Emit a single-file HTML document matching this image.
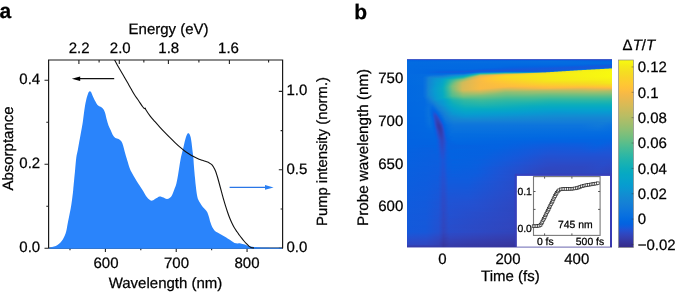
<!DOCTYPE html>
<html><head><meta charset="utf-8"><style>
html,body{margin:0;padding:0;background:#fff;}
body{width:675px;height:292px;overflow:hidden;position:relative;}
svg{position:absolute;left:0;top:0;will-change:transform;}
text{font-family:"Liberation Sans",sans-serif;fill:#000;text-rendering:geometricPrecision;stroke:#000;stroke-width:0.25px;}
</style></head><body>
<svg width="675" height="292" viewBox="0 0 675 292">
<path d="M48.6,248.2V60H282.6V248.2" fill="none" stroke="#1a1a1a" stroke-width="1.2"/>
<path d="M48.6,248.2H282.6" stroke="#1a1a1a" stroke-width="1.2"/>
<path d="M44.5,248.25H48.6 M46.3,206.25H48.6 M44.5,164.25H48.6 M46.3,122.25H48.6 M44.5,80.25H48.6 M278.8,248.20H282.6 M280.6,209.00H282.6 M278.8,169.80H282.6 M280.6,130.60H282.6 M278.8,91.40H282.6 M69.99,248.2V250.2 M105.40,248.2V251.9 M140.81,248.2V250.2 M176.23,248.2V251.9 M211.65,248.2V250.2 M247.06,248.2V251.9 M78.90,60V64.0 M99.10,60V62.6 M119.30,60V64.0 M143.85,60V62.6 M168.40,60V64.0 M198.90,60V62.6 M229.40,60V64.0 M268.60,60V62.6" stroke="#222" stroke-width="1.1" fill="none"/>
<path d="M49.20,248.00 C49.42,247.93 49.70,247.83 50.50,247.60 C51.30,247.37 52.83,247.03 54.00,246.60 C55.17,246.17 56.42,245.68 57.50,245.00 C58.58,244.32 59.62,243.42 60.50,242.50 C61.38,241.58 62.08,240.67 62.80,239.50 C63.52,238.33 64.22,236.92 64.80,235.50 C65.38,234.08 65.83,232.92 66.30,231.00 C66.77,229.08 67.15,226.33 67.60,224.00 C68.05,221.67 68.50,219.50 69.00,217.00 C69.50,214.50 70.10,211.83 70.60,209.00 C71.10,206.17 71.57,203.17 72.00,200.00 C72.43,196.83 72.70,194.83 73.20,190.00 C73.70,185.17 74.48,176.42 75.00,171.00 C75.52,165.58 75.83,161.00 76.30,157.50 C76.77,154.00 77.32,152.58 77.80,150.00 C78.28,147.42 78.75,144.50 79.20,142.00 C79.65,139.50 80.08,137.25 80.50,135.00 C80.92,132.75 81.37,130.33 81.70,128.50 C82.03,126.67 82.27,125.45 82.50,124.00 C82.73,122.55 82.88,121.42 83.10,119.80 C83.32,118.18 83.50,116.50 83.80,114.30 C84.10,112.10 84.47,109.15 84.90,106.60 C85.33,104.05 85.95,100.93 86.40,99.00 C86.85,97.07 87.23,96.12 87.60,95.00 C87.97,93.88 88.22,92.92 88.60,92.30 C88.98,91.68 89.47,91.30 89.90,91.30 C90.33,91.30 90.75,91.57 91.20,92.30 C91.65,93.03 91.92,94.22 92.60,95.70 C93.28,97.18 94.38,99.57 95.30,101.20 C96.22,102.83 97.08,104.50 98.10,105.50 C99.12,106.50 100.48,106.55 101.40,107.20 C102.32,107.85 102.97,108.40 103.60,109.40 C104.23,110.40 104.67,111.47 105.20,113.20 C105.73,114.93 106.25,117.75 106.80,119.80 C107.35,121.85 107.87,123.78 108.50,125.50 C109.13,127.22 109.88,128.52 110.60,130.10 C111.32,131.68 112.00,133.68 112.80,135.00 C113.60,136.32 114.43,137.33 115.40,138.00 C116.37,138.67 117.62,138.45 118.60,139.00 C119.58,139.55 120.55,140.22 121.30,141.30 C122.05,142.38 122.52,143.72 123.10,145.50 C123.68,147.28 124.10,149.50 124.80,152.00 C125.50,154.50 126.47,157.75 127.30,160.50 C128.13,163.25 129.02,166.42 129.80,168.50 C130.58,170.58 131.08,171.30 132.00,173.00 C132.92,174.70 134.03,176.62 135.30,178.70 C136.57,180.78 138.32,183.50 139.60,185.50 C140.88,187.50 141.87,188.87 143.00,190.70 C144.13,192.53 145.30,194.98 146.40,196.50 C147.50,198.02 148.60,199.12 149.60,199.80 C150.60,200.48 151.37,200.80 152.40,200.60 C153.43,200.40 154.60,199.30 155.80,198.60 C157.00,197.90 158.32,196.58 159.60,196.40 C160.88,196.22 162.30,197.07 163.50,197.50 C164.70,197.93 165.78,198.92 166.80,199.00 C167.82,199.08 168.73,198.63 169.60,198.00 C170.47,197.37 171.22,196.62 172.00,195.20 C172.78,193.78 173.57,191.45 174.30,189.50 C175.03,187.55 175.75,186.08 176.40,183.50 C177.05,180.92 177.67,177.08 178.20,174.00 C178.73,170.92 179.13,167.83 179.60,165.00 C180.07,162.17 180.47,159.50 181.00,157.00 C181.53,154.50 182.23,152.33 182.80,150.00 C183.37,147.67 183.87,145.17 184.40,143.00 C184.93,140.83 185.52,138.50 186.00,137.00 C186.48,135.50 186.92,134.62 187.30,134.00 C187.68,133.38 187.95,133.30 188.30,133.30 C188.65,133.30 189.02,133.38 189.40,134.00 C189.78,134.62 190.23,135.50 190.60,137.00 C190.97,138.50 191.30,140.83 191.60,143.00 C191.90,145.17 192.12,147.67 192.40,150.00 C192.68,152.33 193.03,154.17 193.30,157.00 C193.57,159.83 193.72,163.50 194.00,167.00 C194.28,170.50 194.70,174.83 195.00,178.00 C195.30,181.17 195.48,183.25 195.80,186.00 C196.12,188.75 196.50,192.25 196.90,194.50 C197.30,196.75 197.63,198.03 198.20,199.50 C198.77,200.97 199.53,202.05 200.30,203.30 C201.07,204.55 201.98,205.98 202.80,207.00 C203.62,208.02 204.45,208.52 205.20,209.40 C205.95,210.28 206.70,211.12 207.30,212.30 C207.90,213.48 208.28,214.83 208.80,216.50 C209.32,218.17 209.83,220.55 210.40,222.30 C210.97,224.05 211.52,225.65 212.20,227.00 C212.88,228.35 213.62,229.47 214.50,230.40 C215.38,231.33 216.42,231.92 217.50,232.60 C218.58,233.28 219.83,233.83 221.00,234.50 C222.17,235.17 223.33,235.88 224.50,236.60 C225.67,237.32 226.83,238.07 228.00,238.80 C229.17,239.53 230.42,240.32 231.50,241.00 C232.58,241.68 233.50,242.50 234.50,242.90 C235.50,243.30 236.50,243.32 237.50,243.40 C238.50,243.48 239.28,243.23 240.50,243.40 C241.72,243.57 243.28,243.93 244.80,244.40 C246.32,244.87 247.80,245.75 249.60,246.20 C251.40,246.65 253.20,246.87 255.60,247.10 C258.00,247.33 259.60,247.45 264.00,247.60 C268.40,247.75 279.00,247.93 282.00,248.00 L282.0,248.8 L49.2,248.8 Z" fill="#2a84fb"/>
<path d="M114.60,60.00 C115.05,60.83 116.32,63.25 117.30,65.00 C118.28,66.75 119.38,68.58 120.50,70.50 C121.62,72.42 122.83,74.50 124.00,76.50 C125.17,78.50 126.33,80.45 127.50,82.50 C128.67,84.55 129.83,86.75 131.00,88.80 C132.17,90.85 133.25,92.85 134.50,94.80 C135.75,96.75 137.17,98.55 138.50,100.50 C139.83,102.45 141.53,105.15 142.50,106.50 C143.47,107.85 143.85,108.32 144.30,108.60 C144.75,108.88 144.92,107.97 145.20,108.20 C145.48,108.43 145.20,108.73 146.00,110.00 C146.80,111.27 148.50,113.85 150.00,115.80 C151.50,117.75 153.33,119.78 155.00,121.70 C156.67,123.62 158.33,125.48 160.00,127.30 C161.67,129.12 163.33,130.87 165.00,132.60 C166.67,134.33 168.33,136.03 170.00,137.70 C171.67,139.37 173.33,141.02 175.00,142.60 C176.67,144.18 178.50,145.88 180.00,147.20 C181.50,148.52 182.67,149.50 184.00,150.50 C185.33,151.50 186.50,152.25 188.00,153.20 C189.50,154.15 191.42,155.32 193.00,156.20 C194.58,157.08 195.97,157.82 197.50,158.50 C199.03,159.18 200.78,159.78 202.20,160.30 C203.62,160.82 204.82,161.17 206.00,161.60 C207.18,162.03 208.33,162.40 209.30,162.90 C210.27,163.40 211.08,163.88 211.80,164.60 C212.52,165.32 213.00,166.17 213.60,167.20 C214.20,168.23 214.83,169.42 215.40,170.80 C215.97,172.18 216.47,173.80 217.00,175.50 C217.53,177.20 218.07,179.08 218.60,181.00 C219.13,182.92 219.63,184.90 220.20,187.00 C220.77,189.10 221.40,191.40 222.00,193.60 C222.60,195.80 223.20,198.10 223.80,200.20 C224.40,202.30 224.98,204.23 225.60,206.20 C226.22,208.17 226.82,210.03 227.50,212.00 C228.18,213.97 228.95,216.13 229.70,218.00 C230.45,219.87 231.20,221.53 232.00,223.20 C232.80,224.87 233.67,226.57 234.50,228.00 C235.33,229.43 236.20,230.63 237.00,231.80 C237.80,232.97 238.52,233.93 239.30,235.00 C240.08,236.07 240.92,237.20 241.70,238.20 C242.48,239.20 243.22,240.10 244.00,241.00 C244.78,241.90 245.63,242.80 246.40,243.60 C247.17,244.40 247.83,245.17 248.60,245.80 C249.37,246.43 250.10,247.03 251.00,247.40 C251.90,247.77 253.50,247.90 254.00,248.00" fill="none" stroke="#111" stroke-width="1.1" stroke-linejoin="round"/>
<path d="M79,78.6H114.2" stroke="#111" stroke-width="1.25"/>
<path d="M71.8,78.7 L80.2,76.5 L80.2,81.1 Z" fill="#000"/>
<path d="M229.6,187.4H266" stroke="#2a76e6" stroke-width="1.2"/>
<path d="M273.6,187.4 L265.0,185.1 L265.0,189.7 Z" fill="#2a80f4"/>
<defs><linearGradient id="r1"><stop offset="0.0024" stop-color="#0364e1"/><stop offset="0.1049" stop-color="#0662e0"/><stop offset="0.2659" stop-color="#0563e0"/><stop offset="0.7439" stop-color="#0662e0"/><stop offset="0.9976" stop-color="#105bdc"/></linearGradient><linearGradient id="r2"><stop offset="0.0024" stop-color="#0269e1"/><stop offset="0.7098" stop-color="#056ee0"/><stop offset="0.9537" stop-color="#0268e1"/><stop offset="0.9976" stop-color="#0267e1"/></linearGradient><linearGradient id="r3"><stop offset="0.0024" stop-color="#036be1"/><stop offset="0.3439" stop-color="#056de0"/><stop offset="0.7927" stop-color="#046ce0"/><stop offset="0.9976" stop-color="#026ae1"/></linearGradient><linearGradient id="r4"><stop offset="0.0024" stop-color="#036be1"/><stop offset="0.8561" stop-color="#036be1"/><stop offset="0.9976" stop-color="#026ae1"/></linearGradient><linearGradient id="r5"><stop offset="0.0024" stop-color="#036be1"/><stop offset="0.4707" stop-color="#026ae1"/><stop offset="0.8220" stop-color="#0269e1"/><stop offset="0.9976" stop-color="#0463e0"/></linearGradient><linearGradient id="r6"><stop offset="0.0024" stop-color="#036ae1"/><stop offset="0.4366" stop-color="#026ae1"/><stop offset="0.5244" stop-color="#0268e1"/><stop offset="0.8171" stop-color="#0364e1"/><stop offset="0.9439" stop-color="#0d5dde"/><stop offset="0.9976" stop-color="#135adb"/></linearGradient><linearGradient id="r7"><stop offset="0.0024" stop-color="#036ae1"/><stop offset="0.4317" stop-color="#0269e1"/><stop offset="0.5195" stop-color="#0265e1"/><stop offset="0.7341" stop-color="#0661e0"/><stop offset="0.9195" stop-color="#1559da"/><stop offset="0.9976" stop-color="#1359db"/></linearGradient><linearGradient id="r8"><stop offset="0.0024" stop-color="#036ae1"/><stop offset="0.4024" stop-color="#0269e1"/><stop offset="0.5098" stop-color="#0562e0"/><stop offset="0.6951" stop-color="#0d5dde"/><stop offset="0.8122" stop-color="#1558da"/><stop offset="0.9878" stop-color="#0f5cdd"/><stop offset="0.9976" stop-color="#0d5fde"/></linearGradient><linearGradient id="r9"><stop offset="0.0024" stop-color="#036ae1"/><stop offset="0.3244" stop-color="#0269e1"/><stop offset="0.4366" stop-color="#0562e0"/><stop offset="0.5098" stop-color="#0c5ede"/><stop offset="0.7146" stop-color="#1658da"/><stop offset="0.9000" stop-color="#0f5cdd"/><stop offset="0.9341" stop-color="#0d67dd"/><stop offset="0.9537" stop-color="#0d72db"/><stop offset="0.9585" stop-color="#0d78d8"/><stop offset="0.9634" stop-color="#3383bf"/><stop offset="0.9683" stop-color="#4792aa"/><stop offset="0.9780" stop-color="#4799a8"/><stop offset="0.9829" stop-color="#53a59b"/><stop offset="0.9878" stop-color="#80af7e"/><stop offset="0.9927" stop-color="#84b875"/><stop offset="0.9976" stop-color="#84ba75"/></linearGradient><linearGradient id="r10"><stop offset="0.0024" stop-color="#036ae1"/><stop offset="0.1634" stop-color="#0267e1"/><stop offset="0.2902" stop-color="#0267e1"/><stop offset="0.3927" stop-color="#0b5edf"/><stop offset="0.5390" stop-color="#1757d9"/><stop offset="0.8122" stop-color="#105bdd"/><stop offset="0.8415" stop-color="#0c65dd"/><stop offset="0.8707" stop-color="#0d77d9"/><stop offset="0.8805" stop-color="#478fac"/><stop offset="0.8902" stop-color="#4798a8"/><stop offset="0.8951" stop-color="#4fa39f"/><stop offset="0.9000" stop-color="#7dac82"/><stop offset="0.9049" stop-color="#83b677"/><stop offset="0.9146" stop-color="#82bd74"/><stop offset="0.9195" stop-color="#a5c75d"/><stop offset="0.9244" stop-color="#bdd346"/><stop offset="0.9341" stop-color="#bdd744"/><stop offset="0.9390" stop-color="#c5e139"/><stop offset="0.9439" stop-color="#f2e91d"/><stop offset="0.9488" stop-color="#f6f114"/><stop offset="0.9976" stop-color="#f7f512"/></linearGradient><linearGradient id="r11"><stop offset="0.0024" stop-color="#036ae1"/><stop offset="0.1000" stop-color="#0268e1"/><stop offset="0.2024" stop-color="#0363e1"/><stop offset="0.2805" stop-color="#0661e0"/><stop offset="0.3683" stop-color="#1857d9"/><stop offset="0.4854" stop-color="#1758d9"/><stop offset="0.5829" stop-color="#0d5dde"/><stop offset="0.7000" stop-color="#115adc"/><stop offset="0.7439" stop-color="#0e5cdd"/><stop offset="0.7780" stop-color="#0f6bdb"/><stop offset="0.7878" stop-color="#0d73da"/><stop offset="0.7927" stop-color="#1d7fcb"/><stop offset="0.7976" stop-color="#488aaf"/><stop offset="0.8024" stop-color="#4693aa"/><stop offset="0.8073" stop-color="#4797a9"/><stop offset="0.8122" stop-color="#5aa498"/><stop offset="0.8171" stop-color="#83af7c"/><stop offset="0.8268" stop-color="#83b877"/><stop offset="0.8317" stop-color="#9ac463"/><stop offset="0.8366" stop-color="#becf49"/><stop offset="0.8463" stop-color="#bcd546"/><stop offset="0.8512" stop-color="#c1dd3e"/><stop offset="0.8561" stop-color="#efe422"/><stop offset="0.8610" stop-color="#f5ee16"/><stop offset="0.9976" stop-color="#f8f710"/></linearGradient><linearGradient id="r12"><stop offset="0.0024" stop-color="#036ae1"/><stop offset="0.0951" stop-color="#0268e1"/><stop offset="0.1634" stop-color="#0860df"/><stop offset="0.3098" stop-color="#1459db"/><stop offset="0.3683" stop-color="#0960df"/><stop offset="0.5146" stop-color="#0365e1"/><stop offset="0.6366" stop-color="#095fdf"/><stop offset="0.6805" stop-color="#0d60de"/><stop offset="0.7098" stop-color="#0d70db"/><stop offset="0.7146" stop-color="#1179d4"/><stop offset="0.7195" stop-color="#4185b6"/><stop offset="0.7244" stop-color="#488fab"/><stop offset="0.7293" stop-color="#4693ab"/><stop offset="0.7341" stop-color="#4c9da2"/><stop offset="0.7390" stop-color="#7ca983"/><stop offset="0.7439" stop-color="#82b17a"/><stop offset="0.7488" stop-color="#83b479"/><stop offset="0.7537" stop-color="#8bbe6f"/><stop offset="0.7585" stop-color="#bac751"/><stop offset="0.7634" stop-color="#bcce49"/><stop offset="0.7683" stop-color="#bcd049"/><stop offset="0.7732" stop-color="#c7da3d"/><stop offset="0.7780" stop-color="#f4e220"/><stop offset="0.7829" stop-color="#f5e81a"/><stop offset="0.9000" stop-color="#f6f313"/><stop offset="0.9976" stop-color="#f8f90f"/></linearGradient><linearGradient id="r13"><stop offset="0.0024" stop-color="#036ae1"/><stop offset="0.0902" stop-color="#0268e1"/><stop offset="0.1488" stop-color="#0860df"/><stop offset="0.2268" stop-color="#0f5cdd"/><stop offset="0.3195" stop-color="#0365e1"/><stop offset="0.3488" stop-color="#0971dd"/><stop offset="0.3683" stop-color="#0b79da"/><stop offset="0.4366" stop-color="#0a85d6"/><stop offset="0.4854" stop-color="#0d93ce"/><stop offset="0.5780" stop-color="#0f95cc"/><stop offset="0.6024" stop-color="#1998c5"/><stop offset="0.6171" stop-color="#2999bd"/><stop offset="0.6317" stop-color="#409ab1"/><stop offset="0.6366" stop-color="#4a9ca9"/><stop offset="0.6415" stop-color="#4fa49f"/><stop offset="0.6463" stop-color="#58a799"/><stop offset="0.6561" stop-color="#76a78b"/><stop offset="0.6610" stop-color="#84ab81"/><stop offset="0.6659" stop-color="#83b07c"/><stop offset="0.6707" stop-color="#83b07c"/><stop offset="0.6756" stop-color="#83b678"/><stop offset="0.6805" stop-color="#b2c05b"/><stop offset="0.6854" stop-color="#bdc94d"/><stop offset="0.6951" stop-color="#bed147"/><stop offset="0.7000" stop-color="#ecdb2a"/><stop offset="0.7049" stop-color="#f5e21e"/><stop offset="0.8659" stop-color="#f6f313"/><stop offset="0.9976" stop-color="#f8f90f"/></linearGradient><linearGradient id="r14"><stop offset="0.0024" stop-color="#036ae1"/><stop offset="0.1049" stop-color="#0268e1"/><stop offset="0.2073" stop-color="#0367e1"/><stop offset="0.2805" stop-color="#056be0"/><stop offset="0.3098" stop-color="#0e7ada"/><stop offset="0.3293" stop-color="#0e8cd3"/><stop offset="0.3439" stop-color="#0b9dca"/><stop offset="0.3585" stop-color="#17acb9"/><stop offset="0.3976" stop-color="#29b3ab"/><stop offset="0.4268" stop-color="#3db79d"/><stop offset="0.4805" stop-color="#76bd80"/><stop offset="0.5146" stop-color="#84bc7a"/><stop offset="0.5390" stop-color="#9dbc6f"/><stop offset="0.5732" stop-color="#cac64e"/><stop offset="0.5927" stop-color="#e5cc3c"/><stop offset="0.6024" stop-color="#ecd133"/><stop offset="0.6122" stop-color="#f7d22c"/><stop offset="0.6220" stop-color="#f6db24"/><stop offset="0.7732" stop-color="#f5ef16"/><stop offset="0.9976" stop-color="#f8f90f"/></linearGradient><linearGradient id="r15"><stop offset="0.0024" stop-color="#036ae1"/><stop offset="0.1683" stop-color="#056de0"/><stop offset="0.2463" stop-color="#117bd9"/><stop offset="0.2756" stop-color="#127fd7"/><stop offset="0.2951" stop-color="#0f8fd2"/><stop offset="0.3146" stop-color="#08a3c8"/><stop offset="0.3244" stop-color="#0fabbd"/><stop offset="0.3341" stop-color="#21b3ad"/><stop offset="0.3439" stop-color="#3fb99a"/><stop offset="0.3537" stop-color="#66bd86"/><stop offset="0.3585" stop-color="#73be80"/><stop offset="0.4268" stop-color="#b6bd64"/><stop offset="0.4659" stop-color="#e1bd4d"/><stop offset="0.4951" stop-color="#f3c43d"/><stop offset="0.5293" stop-color="#fbd02c"/><stop offset="0.6463" stop-color="#f5e41d"/><stop offset="0.7195" stop-color="#f5ed17"/><stop offset="0.9976" stop-color="#f8f90f"/></linearGradient><linearGradient id="r16"><stop offset="0.0024" stop-color="#036ae1"/><stop offset="0.0854" stop-color="#036ce0"/><stop offset="0.1293" stop-color="#0b74dd"/><stop offset="0.1732" stop-color="#0e76dc"/><stop offset="0.2122" stop-color="#1484d5"/><stop offset="0.2659" stop-color="#0c95d1"/><stop offset="0.2756" stop-color="#0a98d0"/><stop offset="0.2902" stop-color="#07a5c7"/><stop offset="0.3000" stop-color="#0eacbc"/><stop offset="0.3098" stop-color="#1eb3af"/><stop offset="0.3244" stop-color="#48bb95"/><stop offset="0.3439" stop-color="#96be71"/><stop offset="0.3537" stop-color="#bebc61"/><stop offset="0.3585" stop-color="#c9bb5c"/><stop offset="0.4122" stop-color="#f3bb47"/><stop offset="0.4366" stop-color="#fec13a"/><stop offset="0.4805" stop-color="#fbd12b"/><stop offset="0.6122" stop-color="#f5e51d"/><stop offset="0.7293" stop-color="#f5ed17"/><stop offset="0.9976" stop-color="#f8f90f"/></linearGradient><linearGradient id="r17"><stop offset="0.0024" stop-color="#036ae1"/><stop offset="0.0805" stop-color="#046ce0"/><stop offset="0.1146" stop-color="#117ad9"/><stop offset="0.1780" stop-color="#1483d5"/><stop offset="0.2366" stop-color="#079ece"/><stop offset="0.2707" stop-color="#08a8c3"/><stop offset="0.2805" stop-color="#0fadbb"/><stop offset="0.2902" stop-color="#20b3ad"/><stop offset="0.3000" stop-color="#39b99d"/><stop offset="0.3146" stop-color="#6dbe82"/><stop offset="0.3341" stop-color="#b7bd64"/><stop offset="0.3439" stop-color="#d3bb58"/><stop offset="0.3585" stop-color="#e8b94f"/><stop offset="0.4024" stop-color="#fcbe3e"/><stop offset="0.4512" stop-color="#fcce2d"/><stop offset="0.4854" stop-color="#f7d925"/><stop offset="0.7049" stop-color="#f5eb18"/><stop offset="0.9976" stop-color="#f8f90f"/></linearGradient><linearGradient id="r18"><stop offset="0.0024" stop-color="#036ae1"/><stop offset="0.0756" stop-color="#036be0"/><stop offset="0.0951" stop-color="#0d76dc"/><stop offset="0.1098" stop-color="#1481d6"/><stop offset="0.1732" stop-color="#118dd2"/><stop offset="0.2073" stop-color="#069fcd"/><stop offset="0.2366" stop-color="#09aac0"/><stop offset="0.2610" stop-color="#18b1b3"/><stop offset="0.2707" stop-color="#20b4ad"/><stop offset="0.2756" stop-color="#28b5a8"/><stop offset="0.2902" stop-color="#55bc8e"/><stop offset="0.3098" stop-color="#9dbe6e"/><stop offset="0.3195" stop-color="#babd63"/><stop offset="0.3341" stop-color="#d5ba57"/><stop offset="0.3585" stop-color="#f3ba48"/><stop offset="0.3878" stop-color="#fec03b"/><stop offset="0.4463" stop-color="#fad22a"/><stop offset="0.4902" stop-color="#f7da24"/><stop offset="0.6512" stop-color="#f5e61b"/><stop offset="0.7683" stop-color="#f5ed17"/><stop offset="0.9976" stop-color="#f8f710"/></linearGradient><linearGradient id="r19"><stop offset="0.0024" stop-color="#026ae1"/><stop offset="0.0756" stop-color="#046ce0"/><stop offset="0.0902" stop-color="#0b73dd"/><stop offset="0.1049" stop-color="#1481d6"/><stop offset="0.1390" stop-color="#0d92d2"/><stop offset="0.1732" stop-color="#089ad0"/><stop offset="0.2073" stop-color="#08a9c2"/><stop offset="0.2268" stop-color="#14b0b6"/><stop offset="0.2561" stop-color="#38b99e"/><stop offset="0.2707" stop-color="#4fbc91"/><stop offset="0.2756" stop-color="#5cbd8a"/><stop offset="0.2951" stop-color="#9fbe6d"/><stop offset="0.3049" stop-color="#b6bd64"/><stop offset="0.3341" stop-color="#e3b951"/><stop offset="0.3537" stop-color="#f7ba45"/><stop offset="0.3780" stop-color="#fec03b"/><stop offset="0.4659" stop-color="#f9d329"/><stop offset="0.7000" stop-color="#f5e919"/><stop offset="0.9439" stop-color="#f7f313"/><stop offset="0.9976" stop-color="#f7f512"/></linearGradient><linearGradient id="r20"><stop offset="0.0024" stop-color="#026ae1"/><stop offset="0.0756" stop-color="#046ce0"/><stop offset="0.0902" stop-color="#0b73dd"/><stop offset="0.1049" stop-color="#1482d5"/><stop offset="0.1439" stop-color="#0a96d1"/><stop offset="0.1732" stop-color="#06a1cc"/><stop offset="0.1927" stop-color="#0aacbe"/><stop offset="0.2220" stop-color="#29b6a7"/><stop offset="0.2512" stop-color="#5cbd8a"/><stop offset="0.2756" stop-color="#8fbf74"/><stop offset="0.2951" stop-color="#b8bd63"/><stop offset="0.3244" stop-color="#e4b950"/><stop offset="0.3439" stop-color="#f4ba47"/><stop offset="0.3780" stop-color="#febf3c"/><stop offset="0.4561" stop-color="#fcce2d"/><stop offset="0.6610" stop-color="#f5e51c"/><stop offset="0.8756" stop-color="#f6f015"/><stop offset="0.9927" stop-color="#f6f114"/><stop offset="0.9976" stop-color="#f6f214"/></linearGradient><linearGradient id="r21"><stop offset="0.0024" stop-color="#026ae1"/><stop offset="0.0756" stop-color="#046ce0"/><stop offset="0.0902" stop-color="#0b73dd"/><stop offset="0.1049" stop-color="#1482d5"/><stop offset="0.1341" stop-color="#0c94d2"/><stop offset="0.1732" stop-color="#06a2cb"/><stop offset="0.1878" stop-color="#09abbf"/><stop offset="0.2024" stop-color="#1cb2b0"/><stop offset="0.2366" stop-color="#5bbd8b"/><stop offset="0.2756" stop-color="#a9be69"/><stop offset="0.3049" stop-color="#daba55"/><stop offset="0.3195" stop-color="#e8b94f"/><stop offset="0.3683" stop-color="#fcbd40"/><stop offset="0.4366" stop-color="#fec932"/><stop offset="0.6415" stop-color="#f5e11f"/><stop offset="0.7049" stop-color="#f5e81b"/><stop offset="0.9000" stop-color="#f5ea19"/><stop offset="0.9976" stop-color="#f6ef16"/></linearGradient><linearGradient id="r22"><stop offset="0.0024" stop-color="#026ae1"/><stop offset="0.0756" stop-color="#046ce0"/><stop offset="0.0902" stop-color="#0b74dd"/><stop offset="0.1049" stop-color="#1483d5"/><stop offset="0.1341" stop-color="#0b95d2"/><stop offset="0.1683" stop-color="#06a1cc"/><stop offset="0.1829" stop-color="#08aac1"/><stop offset="0.1976" stop-color="#1ab2b1"/><stop offset="0.2171" stop-color="#41ba99"/><stop offset="0.2463" stop-color="#84bf78"/><stop offset="0.2756" stop-color="#bfbc60"/><stop offset="0.2951" stop-color="#dbba55"/><stop offset="0.3439" stop-color="#f4ba47"/><stop offset="0.3927" stop-color="#fec03b"/><stop offset="0.5049" stop-color="#fccd2e"/><stop offset="0.6854" stop-color="#f5e21e"/><stop offset="0.9341" stop-color="#f5e61b"/><stop offset="0.9976" stop-color="#f5ec17"/></linearGradient><linearGradient id="r23"><stop offset="0.0024" stop-color="#026ae1"/><stop offset="0.0756" stop-color="#036ce0"/><stop offset="0.0902" stop-color="#0b74dd"/><stop offset="0.1049" stop-color="#1484d4"/><stop offset="0.1439" stop-color="#089bd0"/><stop offset="0.1732" stop-color="#06a5c8"/><stop offset="0.1878" stop-color="#0faeb9"/><stop offset="0.2073" stop-color="#34b8a0"/><stop offset="0.2366" stop-color="#80bf7a"/><stop offset="0.2659" stop-color="#c0bc60"/><stop offset="0.2756" stop-color="#d1bb59"/><stop offset="0.3244" stop-color="#ecb94c"/><stop offset="0.3683" stop-color="#fbbc41"/><stop offset="0.4561" stop-color="#fec536"/><stop offset="0.6707" stop-color="#f6db24"/><stop offset="0.9195" stop-color="#f5e11f"/><stop offset="0.9976" stop-color="#f5ea19"/></linearGradient><linearGradient id="r24"><stop offset="0.0024" stop-color="#026ae1"/><stop offset="0.0756" stop-color="#036ce0"/><stop offset="0.0902" stop-color="#0b74dd"/><stop offset="0.1049" stop-color="#1484d4"/><stop offset="0.1439" stop-color="#079cd0"/><stop offset="0.1732" stop-color="#06a6c6"/><stop offset="0.1829" stop-color="#0cadbc"/><stop offset="0.1976" stop-color="#25b5a9"/><stop offset="0.2122" stop-color="#4abc94"/><stop offset="0.2317" stop-color="#7fbf7a"/><stop offset="0.2610" stop-color="#bdbd61"/><stop offset="0.2707" stop-color="#cfbb5a"/><stop offset="0.3000" stop-color="#e1b952"/><stop offset="0.3585" stop-color="#f9bb43"/><stop offset="0.4463" stop-color="#fec139"/><stop offset="0.6463" stop-color="#fad32a"/><stop offset="0.8951" stop-color="#f6db23"/><stop offset="0.9976" stop-color="#f5e41d"/></linearGradient><linearGradient id="r25"><stop offset="0.0024" stop-color="#026ae1"/><stop offset="0.0756" stop-color="#036ce0"/><stop offset="0.0902" stop-color="#0c74dd"/><stop offset="0.1049" stop-color="#1484d4"/><stop offset="0.1439" stop-color="#079ccf"/><stop offset="0.1732" stop-color="#06a7c5"/><stop offset="0.1829" stop-color="#0eaeba"/><stop offset="0.1976" stop-color="#2ab6a6"/><stop offset="0.2122" stop-color="#52bd8f"/><stop offset="0.2268" stop-color="#7bbf7c"/><stop offset="0.2561" stop-color="#b7bd64"/><stop offset="0.2707" stop-color="#d1bb59"/><stop offset="0.2951" stop-color="#e0ba53"/><stop offset="0.3585" stop-color="#f9bb43"/><stop offset="0.4805" stop-color="#fec13a"/><stop offset="0.6317" stop-color="#fccd2f"/><stop offset="0.9049" stop-color="#f8d627"/><stop offset="0.9976" stop-color="#f6db24"/></linearGradient><linearGradient id="r26"><stop offset="0.0024" stop-color="#0269e1"/><stop offset="0.0756" stop-color="#036be0"/><stop offset="0.0902" stop-color="#0c74dd"/><stop offset="0.1049" stop-color="#1484d4"/><stop offset="0.1390" stop-color="#079bd0"/><stop offset="0.1683" stop-color="#06a6c7"/><stop offset="0.1780" stop-color="#0aacbe"/><stop offset="0.1878" stop-color="#19b2b1"/><stop offset="0.2024" stop-color="#3cba9b"/><stop offset="0.2220" stop-color="#79bf7d"/><stop offset="0.2512" stop-color="#b2bd65"/><stop offset="0.2707" stop-color="#d3bb58"/><stop offset="0.2902" stop-color="#dfba53"/><stop offset="0.3585" stop-color="#f9bb43"/><stop offset="0.5195" stop-color="#fec13a"/><stop offset="0.6854" stop-color="#fec932"/><stop offset="0.9341" stop-color="#fbcf2c"/><stop offset="0.9976" stop-color="#fad32a"/></linearGradient><linearGradient id="r27"><stop offset="0.0024" stop-color="#0269e1"/><stop offset="0.0756" stop-color="#036be0"/><stop offset="0.0902" stop-color="#0c74dd"/><stop offset="0.1049" stop-color="#1485d4"/><stop offset="0.1390" stop-color="#079cd0"/><stop offset="0.1732" stop-color="#07a9c2"/><stop offset="0.1829" stop-color="#13b0b6"/><stop offset="0.1976" stop-color="#34b8a0"/><stop offset="0.2171" stop-color="#70bf81"/><stop offset="0.2317" stop-color="#91bf73"/><stop offset="0.2707" stop-color="#d4bb58"/><stop offset="0.2854" stop-color="#ddba54"/><stop offset="0.3585" stop-color="#f9bb43"/><stop offset="0.6317" stop-color="#fec03b"/><stop offset="0.7195" stop-color="#fec337"/><stop offset="0.8756" stop-color="#fec436"/><stop offset="0.9976" stop-color="#fdcb30"/></linearGradient><linearGradient id="r28"><stop offset="0.0024" stop-color="#0269e1"/><stop offset="0.0756" stop-color="#036be0"/><stop offset="0.0902" stop-color="#0c74dd"/><stop offset="0.1049" stop-color="#1485d4"/><stop offset="0.1390" stop-color="#079dcf"/><stop offset="0.1683" stop-color="#06a8c4"/><stop offset="0.1780" stop-color="#0daeba"/><stop offset="0.1927" stop-color="#2ab6a6"/><stop offset="0.2122" stop-color="#60be88"/><stop offset="0.2220" stop-color="#7bbf7c"/><stop offset="0.2512" stop-color="#b4bd65"/><stop offset="0.2707" stop-color="#d4bb58"/><stop offset="0.2854" stop-color="#ddba54"/><stop offset="0.3585" stop-color="#f9bb43"/><stop offset="0.4415" stop-color="#f8bb44"/><stop offset="0.5000" stop-color="#efb94a"/><stop offset="0.6220" stop-color="#f8bb44"/><stop offset="0.6951" stop-color="#fdbe3e"/><stop offset="0.8610" stop-color="#f9bc43"/><stop offset="0.9976" stop-color="#fdc03b"/></linearGradient><linearGradient id="r29"><stop offset="0.0024" stop-color="#0269e1"/><stop offset="0.0756" stop-color="#036be0"/><stop offset="0.0902" stop-color="#0c74dd"/><stop offset="0.1049" stop-color="#1485d4"/><stop offset="0.1341" stop-color="#089bd0"/><stop offset="0.1732" stop-color="#08abc0"/><stop offset="0.1829" stop-color="#15b1b4"/><stop offset="0.1976" stop-color="#35b8a0"/><stop offset="0.2220" stop-color="#7abf7c"/><stop offset="0.2512" stop-color="#b3bd65"/><stop offset="0.2707" stop-color="#d4bb58"/><stop offset="0.2854" stop-color="#ddba54"/><stop offset="0.3585" stop-color="#f9bb43"/><stop offset="0.4073" stop-color="#f3ba48"/><stop offset="0.4707" stop-color="#deba53"/><stop offset="0.5098" stop-color="#deba53"/><stop offset="0.6756" stop-color="#f2ba48"/><stop offset="0.8463" stop-color="#e4b950"/><stop offset="0.9976" stop-color="#f1ba49"/></linearGradient><linearGradient id="r30"><stop offset="0.0024" stop-color="#0269e1"/><stop offset="0.0756" stop-color="#036be0"/><stop offset="0.0902" stop-color="#0c74dd"/><stop offset="0.1000" stop-color="#1480d6"/><stop offset="0.1146" stop-color="#108ed2"/><stop offset="0.1390" stop-color="#079ecf"/><stop offset="0.1732" stop-color="#08aac0"/><stop offset="0.1829" stop-color="#15b0b5"/><stop offset="0.1976" stop-color="#34b8a0"/><stop offset="0.2220" stop-color="#76bf7e"/><stop offset="0.2512" stop-color="#b2bd66"/><stop offset="0.2707" stop-color="#d4bb58"/><stop offset="0.2854" stop-color="#ddba54"/><stop offset="0.3537" stop-color="#f1ba49"/><stop offset="0.4415" stop-color="#d7ba57"/><stop offset="0.4805" stop-color="#c7bc5d"/><stop offset="0.6171" stop-color="#d5ba57"/><stop offset="0.7195" stop-color="#d2bb59"/><stop offset="0.8463" stop-color="#cdbb5b"/><stop offset="0.9634" stop-color="#d9ba56"/><stop offset="0.9976" stop-color="#d5ba57"/></linearGradient><linearGradient id="r31"><stop offset="0.0024" stop-color="#0269e1"/><stop offset="0.0756" stop-color="#036be0"/><stop offset="0.0902" stop-color="#0c74dd"/><stop offset="0.1000" stop-color="#1480d6"/><stop offset="0.1146" stop-color="#108ed2"/><stop offset="0.1390" stop-color="#079dcf"/><stop offset="0.1732" stop-color="#08aac1"/><stop offset="0.1829" stop-color="#14b0b5"/><stop offset="0.2024" stop-color="#3eba9a"/><stop offset="0.2220" stop-color="#71bf80"/><stop offset="0.2707" stop-color="#ccbb5b"/><stop offset="0.2805" stop-color="#d2bb59"/><stop offset="0.3585" stop-color="#e0ba53"/><stop offset="0.4366" stop-color="#c6bc5e"/><stop offset="0.4805" stop-color="#b4bd65"/><stop offset="0.5829" stop-color="#babd62"/><stop offset="0.7488" stop-color="#b6bd64"/><stop offset="0.8463" stop-color="#b7bd64"/><stop offset="0.9195" stop-color="#c2bc5f"/><stop offset="0.9683" stop-color="#bfbc60"/><stop offset="0.9976" stop-color="#b7bd64"/></linearGradient><linearGradient id="r32"><stop offset="0.0024" stop-color="#0269e1"/><stop offset="0.0756" stop-color="#036be0"/><stop offset="0.0902" stop-color="#0c74dd"/><stop offset="0.1049" stop-color="#1486d4"/><stop offset="0.1390" stop-color="#079dcf"/><stop offset="0.1732" stop-color="#07aac1"/><stop offset="0.1878" stop-color="#1bb2b0"/><stop offset="0.2073" stop-color="#47bb95"/><stop offset="0.2220" stop-color="#6bbe83"/><stop offset="0.2707" stop-color="#bdbd61"/><stop offset="0.2805" stop-color="#c3bc5f"/><stop offset="0.3537" stop-color="#cfbb5a"/><stop offset="0.4268" stop-color="#b8bd63"/><stop offset="0.4805" stop-color="#a0be6d"/><stop offset="0.8463" stop-color="#a8be6a"/><stop offset="0.9049" stop-color="#aebe67"/><stop offset="0.9537" stop-color="#a9be69"/><stop offset="0.9976" stop-color="#a6be6a"/></linearGradient><linearGradient id="r33"><stop offset="0.0024" stop-color="#0269e1"/><stop offset="0.0756" stop-color="#036be0"/><stop offset="0.0902" stop-color="#0c74dd"/><stop offset="0.1049" stop-color="#1485d4"/><stop offset="0.1341" stop-color="#089ad0"/><stop offset="0.1683" stop-color="#06a7c6"/><stop offset="0.1780" stop-color="#0bacbd"/><stop offset="0.1927" stop-color="#23b4ab"/><stop offset="0.2122" stop-color="#4fbc91"/><stop offset="0.2220" stop-color="#65be86"/><stop offset="0.2756" stop-color="#b2bd66"/><stop offset="0.3585" stop-color="#bdbd61"/><stop offset="0.4268" stop-color="#a5be6b"/><stop offset="0.4805" stop-color="#8cbf75"/><stop offset="0.6268" stop-color="#96bf71"/><stop offset="0.7829" stop-color="#96bf71"/><stop offset="0.8561" stop-color="#9abf6f"/><stop offset="0.9146" stop-color="#9abf6f"/><stop offset="0.9976" stop-color="#98bf70"/></linearGradient><linearGradient id="r34"><stop offset="0.0024" stop-color="#0269e1"/><stop offset="0.0756" stop-color="#036be0"/><stop offset="0.0902" stop-color="#0c74dd"/><stop offset="0.1049" stop-color="#1485d4"/><stop offset="0.1390" stop-color="#079cd0"/><stop offset="0.1732" stop-color="#07a9c3"/><stop offset="0.1829" stop-color="#10afb8"/><stop offset="0.2024" stop-color="#34b8a0"/><stop offset="0.2220" stop-color="#5fbe88"/><stop offset="0.2756" stop-color="#a1be6c"/><stop offset="0.3341" stop-color="#aabe69"/><stop offset="0.3634" stop-color="#a9be69"/><stop offset="0.4268" stop-color="#91bf73"/><stop offset="0.4659" stop-color="#82bf79"/><stop offset="0.5000" stop-color="#82bf79"/><stop offset="0.6073" stop-color="#88bf77"/><stop offset="0.6854" stop-color="#82bf79"/><stop offset="0.9098" stop-color="#89bf76"/><stop offset="0.9976" stop-color="#88bf77"/></linearGradient><linearGradient id="r35"><stop offset="0.0024" stop-color="#0269e1"/><stop offset="0.0756" stop-color="#036be0"/><stop offset="0.0902" stop-color="#0b74dd"/><stop offset="0.1049" stop-color="#1485d4"/><stop offset="0.1390" stop-color="#079cd0"/><stop offset="0.1683" stop-color="#06a6c7"/><stop offset="0.1780" stop-color="#09acbe"/><stop offset="0.1927" stop-color="#1fb3ae"/><stop offset="0.2122" stop-color="#46bb95"/><stop offset="0.2220" stop-color="#5abd8b"/><stop offset="0.2707" stop-color="#90bf73"/><stop offset="0.3098" stop-color="#98bf70"/><stop offset="0.3585" stop-color="#96bf71"/><stop offset="0.4463" stop-color="#7bbf7c"/><stop offset="0.4902" stop-color="#75bf7e"/><stop offset="0.5878" stop-color="#79bf7d"/><stop offset="0.6610" stop-color="#73bf7f"/><stop offset="0.8171" stop-color="#76bf7e"/><stop offset="0.9537" stop-color="#7abf7c"/><stop offset="0.9976" stop-color="#77bf7d"/></linearGradient><linearGradient id="r36"><stop offset="0.0024" stop-color="#0269e1"/><stop offset="0.0756" stop-color="#036be0"/><stop offset="0.0902" stop-color="#0b74dd"/><stop offset="0.1049" stop-color="#1484d4"/><stop offset="0.1390" stop-color="#079bd0"/><stop offset="0.1732" stop-color="#06a8c4"/><stop offset="0.1878" stop-color="#15b0b4"/><stop offset="0.2073" stop-color="#38b99e"/><stop offset="0.2171" stop-color="#4dbc92"/><stop offset="0.2317" stop-color="#5cbe8a"/><stop offset="0.2756" stop-color="#85bf78"/><stop offset="0.3341" stop-color="#85bf78"/><stop offset="0.4854" stop-color="#69be84"/><stop offset="0.5878" stop-color="#6bbe83"/><stop offset="0.6902" stop-color="#64be86"/><stop offset="0.8805" stop-color="#6abe83"/><stop offset="0.9683" stop-color="#69be84"/><stop offset="0.9976" stop-color="#67be85"/></linearGradient><linearGradient id="r37"><stop offset="0.0024" stop-color="#0269e1"/><stop offset="0.0756" stop-color="#036be1"/><stop offset="0.0902" stop-color="#0a73de"/><stop offset="0.1000" stop-color="#137dd8"/><stop offset="0.1195" stop-color="#118dd2"/><stop offset="0.1439" stop-color="#079ccf"/><stop offset="0.1732" stop-color="#06a8c4"/><stop offset="0.1878" stop-color="#14b0b5"/><stop offset="0.2220" stop-color="#4abc93"/><stop offset="0.2756" stop-color="#76bf7e"/><stop offset="0.3634" stop-color="#72bf80"/><stop offset="0.4854" stop-color="#5cbe8a"/><stop offset="0.5878" stop-color="#5cbd8a"/><stop offset="0.7146" stop-color="#57bd8c"/><stop offset="0.9341" stop-color="#5abd8b"/><stop offset="0.9976" stop-color="#59bd8b"/></linearGradient><linearGradient id="r38"><stop offset="0.0024" stop-color="#0269e1"/><stop offset="0.0805" stop-color="#036be0"/><stop offset="0.1000" stop-color="#117bd9"/><stop offset="0.1146" stop-color="#1487d3"/><stop offset="0.1439" stop-color="#079cd0"/><stop offset="0.1732" stop-color="#06a8c4"/><stop offset="0.1927" stop-color="#16b1b4"/><stop offset="0.2122" stop-color="#2eb7a4"/><stop offset="0.2220" stop-color="#3bb99c"/><stop offset="0.2756" stop-color="#64be86"/><stop offset="0.3683" stop-color="#63be87"/><stop offset="0.4854" stop-color="#50bc90"/><stop offset="0.6317" stop-color="#4ebc91"/><stop offset="0.7000" stop-color="#4abc94"/><stop offset="0.9927" stop-color="#4cbc92"/><stop offset="0.9976" stop-color="#4bbc93"/></linearGradient><linearGradient id="r39"><stop offset="0.0024" stop-color="#0269e1"/><stop offset="0.0805" stop-color="#036ae1"/><stop offset="0.1000" stop-color="#0f78da"/><stop offset="0.1146" stop-color="#1484d4"/><stop offset="0.1341" stop-color="#0c94d2"/><stop offset="0.1537" stop-color="#06a0cd"/><stop offset="0.1780" stop-color="#06a7c5"/><stop offset="0.1927" stop-color="#0dadbb"/><stop offset="0.2122" stop-color="#22b4ac"/><stop offset="0.2220" stop-color="#2db7a4"/><stop offset="0.2756" stop-color="#50bc90"/><stop offset="0.3634" stop-color="#56bd8d"/><stop offset="0.4854" stop-color="#45bb96"/><stop offset="0.6268" stop-color="#43bb97"/><stop offset="0.7000" stop-color="#3dba9b"/><stop offset="0.9195" stop-color="#40ba99"/><stop offset="0.9927" stop-color="#3fba99"/><stop offset="0.9976" stop-color="#3eba9a"/></linearGradient><linearGradient id="r40"><stop offset="0.0024" stop-color="#0269e1"/><stop offset="0.0854" stop-color="#036be0"/><stop offset="0.1098" stop-color="#137dd7"/><stop offset="0.1244" stop-color="#1389d3"/><stop offset="0.1439" stop-color="#089ad0"/><stop offset="0.1780" stop-color="#06a2cb"/><stop offset="0.1976" stop-color="#09abbe"/><stop offset="0.2268" stop-color="#24b5aa"/><stop offset="0.2756" stop-color="#3eba9a"/><stop offset="0.3634" stop-color="#48bb95"/><stop offset="0.4902" stop-color="#3ab99d"/><stop offset="0.6073" stop-color="#3ab99d"/><stop offset="0.6902" stop-color="#32b8a1"/><stop offset="0.8805" stop-color="#34b8a0"/><stop offset="0.9683" stop-color="#36b99f"/><stop offset="0.9976" stop-color="#33b8a1"/></linearGradient><linearGradient id="r41"><stop offset="0.0024" stop-color="#0269e1"/><stop offset="0.0854" stop-color="#036be1"/><stop offset="0.1146" stop-color="#137dd8"/><stop offset="0.1293" stop-color="#128ad3"/><stop offset="0.1488" stop-color="#0a97d1"/><stop offset="0.1732" stop-color="#079cd0"/><stop offset="0.1976" stop-color="#07a9c3"/><stop offset="0.2122" stop-color="#10afb8"/><stop offset="0.2220" stop-color="#19b2b1"/><stop offset="0.2805" stop-color="#33b8a1"/><stop offset="0.3585" stop-color="#3eba9a"/><stop offset="0.4707" stop-color="#32b8a1"/><stop offset="0.5976" stop-color="#31b8a2"/><stop offset="0.6854" stop-color="#29b6a7"/><stop offset="0.8756" stop-color="#2bb6a5"/><stop offset="0.9780" stop-color="#2bb6a6"/><stop offset="0.9976" stop-color="#29b6a7"/></linearGradient><linearGradient id="r42"><stop offset="0.0024" stop-color="#0269e1"/><stop offset="0.0854" stop-color="#036ae1"/><stop offset="0.1244" stop-color="#1481d6"/><stop offset="0.1488" stop-color="#0d92d2"/><stop offset="0.1732" stop-color="#089ad0"/><stop offset="0.2024" stop-color="#07a9c2"/><stop offset="0.2268" stop-color="#17b1b3"/><stop offset="0.2805" stop-color="#2cb7a5"/><stop offset="0.3634" stop-color="#36b99f"/><stop offset="0.4902" stop-color="#2bb6a6"/><stop offset="0.5878" stop-color="#29b6a7"/><stop offset="0.6951" stop-color="#21b4ac"/><stop offset="0.8756" stop-color="#23b5ab"/><stop offset="0.9732" stop-color="#22b4ac"/><stop offset="0.9976" stop-color="#21b4ac"/></linearGradient><linearGradient id="r43"><stop offset="0.0024" stop-color="#0268e1"/><stop offset="0.0854" stop-color="#036ae1"/><stop offset="0.1244" stop-color="#127dd8"/><stop offset="0.1390" stop-color="#1388d3"/><stop offset="0.1585" stop-color="#0d93d2"/><stop offset="0.1780" stop-color="#079bd0"/><stop offset="0.2073" stop-color="#08aac1"/><stop offset="0.2268" stop-color="#12b0b6"/><stop offset="0.2805" stop-color="#27b5a8"/><stop offset="0.3634" stop-color="#2fb7a3"/><stop offset="0.4756" stop-color="#25b5aa"/><stop offset="0.5878" stop-color="#21b4ac"/><stop offset="0.7000" stop-color="#1ab2b1"/><stop offset="0.9049" stop-color="#1cb3af"/><stop offset="0.9976" stop-color="#1ab2b1"/></linearGradient><linearGradient id="r44"><stop offset="0.0024" stop-color="#0268e1"/><stop offset="0.0854" stop-color="#036ae1"/><stop offset="0.1244" stop-color="#1079da"/><stop offset="0.1390" stop-color="#1485d4"/><stop offset="0.1585" stop-color="#0e91d2"/><stop offset="0.1780" stop-color="#0899d1"/><stop offset="0.2073" stop-color="#06a8c3"/><stop offset="0.2317" stop-color="#10afb8"/><stop offset="0.2756" stop-color="#21b4ac"/><stop offset="0.3683" stop-color="#29b6a7"/><stop offset="0.4951" stop-color="#1fb3ae"/><stop offset="0.7000" stop-color="#14b0b5"/><stop offset="0.9976" stop-color="#14b0b5"/></linearGradient><linearGradient id="r45"><stop offset="0.0024" stop-color="#0268e1"/><stop offset="0.0854" stop-color="#036ae1"/><stop offset="0.1146" stop-color="#0972de"/><stop offset="0.1293" stop-color="#1079da"/><stop offset="0.1439" stop-color="#1485d4"/><stop offset="0.1634" stop-color="#0f90d2"/><stop offset="0.1829" stop-color="#089ad0"/><stop offset="0.2122" stop-color="#07a9c3"/><stop offset="0.2463" stop-color="#11afb7"/><stop offset="0.2756" stop-color="#1cb3b0"/><stop offset="0.3634" stop-color="#23b4ab"/><stop offset="0.5000" stop-color="#19b2b2"/><stop offset="0.7049" stop-color="#0eaeba"/><stop offset="0.9976" stop-color="#0eaeba"/></linearGradient><linearGradient id="r46"><stop offset="0.0024" stop-color="#0268e1"/><stop offset="0.0854" stop-color="#036ae1"/><stop offset="0.1049" stop-color="#0870df"/><stop offset="0.1244" stop-color="#0971de"/><stop offset="0.1439" stop-color="#1481d5"/><stop offset="0.1634" stop-color="#118dd2"/><stop offset="0.1927" stop-color="#079ece"/><stop offset="0.2220" stop-color="#08aac1"/><stop offset="0.2854" stop-color="#18b1b2"/><stop offset="0.3683" stop-color="#1db3af"/><stop offset="0.6122" stop-color="#0dadbb"/><stop offset="0.7585" stop-color="#0aacbe"/><stop offset="0.9976" stop-color="#0aacbe"/></linearGradient><linearGradient id="r47"><stop offset="0.0024" stop-color="#0268e1"/><stop offset="0.0805" stop-color="#026ae1"/><stop offset="0.1049" stop-color="#0770df"/><stop offset="0.1244" stop-color="#056ee0"/><stop offset="0.1488" stop-color="#1482d5"/><stop offset="0.1732" stop-color="#108ed2"/><stop offset="0.1976" stop-color="#069ece"/><stop offset="0.2268" stop-color="#07a9c2"/><stop offset="0.2854" stop-color="#13b0b6"/><stop offset="0.3732" stop-color="#16b1b3"/><stop offset="0.6512" stop-color="#08aac1"/><stop offset="0.9976" stop-color="#07aac2"/></linearGradient><linearGradient id="r48"><stop offset="0.0024" stop-color="#0268e1"/><stop offset="0.0805" stop-color="#026ae1"/><stop offset="0.1049" stop-color="#0870df"/><stop offset="0.1244" stop-color="#036be0"/><stop offset="0.1341" stop-color="#0870df"/><stop offset="0.1488" stop-color="#137ed7"/><stop offset="0.1732" stop-color="#128bd2"/><stop offset="0.2024" stop-color="#069ece"/><stop offset="0.2317" stop-color="#06a8c4"/><stop offset="0.2854" stop-color="#0eaeba"/><stop offset="0.3878" stop-color="#10afb8"/><stop offset="0.6073" stop-color="#07a9c2"/><stop offset="0.7537" stop-color="#06a7c5"/><stop offset="0.9976" stop-color="#06a7c5"/></linearGradient><linearGradient id="r49"><stop offset="0.0024" stop-color="#0268e1"/><stop offset="0.0805" stop-color="#026ae1"/><stop offset="0.1049" stop-color="#0871df"/><stop offset="0.1244" stop-color="#0269e1"/><stop offset="0.1341" stop-color="#046de0"/><stop offset="0.1537" stop-color="#137ed7"/><stop offset="0.1780" stop-color="#128cd2"/><stop offset="0.2073" stop-color="#069ece"/><stop offset="0.2366" stop-color="#06a7c6"/><stop offset="0.2854" stop-color="#0aacbe"/><stop offset="0.4220" stop-color="#0aacbe"/><stop offset="0.6659" stop-color="#06a5c8"/><stop offset="0.9976" stop-color="#06a5c9"/></linearGradient><linearGradient id="r50"><stop offset="0.0024" stop-color="#0268e1"/><stop offset="0.0805" stop-color="#026ae1"/><stop offset="0.1049" stop-color="#0871de"/><stop offset="0.1244" stop-color="#0266e1"/><stop offset="0.1341" stop-color="#0269e1"/><stop offset="0.1585" stop-color="#137fd7"/><stop offset="0.1780" stop-color="#1389d3"/><stop offset="0.2122" stop-color="#069ece"/><stop offset="0.2512" stop-color="#06a7c6"/><stop offset="0.2902" stop-color="#07aac1"/><stop offset="0.4317" stop-color="#07a9c2"/><stop offset="0.7293" stop-color="#06a2cc"/><stop offset="0.9976" stop-color="#06a2cc"/></linearGradient><linearGradient id="r51"><stop offset="0.0024" stop-color="#0267e1"/><stop offset="0.0756" stop-color="#0269e1"/><stop offset="0.1049" stop-color="#0971de"/><stop offset="0.1195" stop-color="#0268e1"/><stop offset="0.1293" stop-color="#0463e1"/><stop offset="0.1390" stop-color="#0268e1"/><stop offset="0.1585" stop-color="#127bd9"/><stop offset="0.1829" stop-color="#1389d3"/><stop offset="0.2171" stop-color="#079ecf"/><stop offset="0.2805" stop-color="#06a8c5"/><stop offset="0.4415" stop-color="#06a6c6"/><stop offset="0.7195" stop-color="#069ece"/><stop offset="0.9780" stop-color="#06a0cd"/><stop offset="0.9976" stop-color="#069fce"/></linearGradient><linearGradient id="r52"><stop offset="0.0024" stop-color="#0267e1"/><stop offset="0.0805" stop-color="#0269e1"/><stop offset="0.1049" stop-color="#0971de"/><stop offset="0.1146" stop-color="#046ce0"/><stop offset="0.1244" stop-color="#0463e1"/><stop offset="0.1293" stop-color="#095fdf"/><stop offset="0.1390" stop-color="#0463e1"/><stop offset="0.1439" stop-color="#0269e1"/><stop offset="0.1634" stop-color="#117bd9"/><stop offset="0.1829" stop-color="#1486d4"/><stop offset="0.2220" stop-color="#079dcf"/><stop offset="0.2805" stop-color="#06a5c8"/><stop offset="0.4707" stop-color="#06a3ca"/><stop offset="0.7244" stop-color="#079bd0"/><stop offset="0.9000" stop-color="#079dcf"/><stop offset="0.9976" stop-color="#079bd0"/></linearGradient><linearGradient id="r53"><stop offset="0.0024" stop-color="#0267e1"/><stop offset="0.0805" stop-color="#0269e1"/><stop offset="0.1049" stop-color="#0971de"/><stop offset="0.1146" stop-color="#046ce0"/><stop offset="0.1195" stop-color="#0267e1"/><stop offset="0.1293" stop-color="#0e5cdd"/><stop offset="0.1341" stop-color="#115bdc"/><stop offset="0.1439" stop-color="#0464e1"/><stop offset="0.1488" stop-color="#036ae1"/><stop offset="0.1683" stop-color="#117ad9"/><stop offset="0.1878" stop-color="#1487d3"/><stop offset="0.2268" stop-color="#089bd0"/><stop offset="0.2854" stop-color="#06a3cb"/><stop offset="0.5634" stop-color="#079dcf"/><stop offset="0.7293" stop-color="#0997d1"/><stop offset="0.8659" stop-color="#0899d1"/><stop offset="0.9927" stop-color="#0998d1"/><stop offset="0.9976" stop-color="#0997d1"/></linearGradient><linearGradient id="r54"><stop offset="0.0024" stop-color="#0267e1"/><stop offset="0.0805" stop-color="#0269e1"/><stop offset="0.1049" stop-color="#0971de"/><stop offset="0.1146" stop-color="#046ce0"/><stop offset="0.1195" stop-color="#0267e1"/><stop offset="0.1244" stop-color="#0760e0"/><stop offset="0.1293" stop-color="#1459db"/><stop offset="0.1341" stop-color="#1b55d7"/><stop offset="0.1390" stop-color="#1857d8"/><stop offset="0.1488" stop-color="#0365e1"/><stop offset="0.1537" stop-color="#036be0"/><stop offset="0.1683" stop-color="#0f78db"/><stop offset="0.1927" stop-color="#1487d3"/><stop offset="0.2268" stop-color="#0998d1"/><stop offset="0.2854" stop-color="#06a0cd"/><stop offset="0.5585" stop-color="#089ad1"/><stop offset="0.7244" stop-color="#0c94d2"/><stop offset="0.8756" stop-color="#0a96d1"/><stop offset="0.9732" stop-color="#0b95d2"/><stop offset="0.9976" stop-color="#0c94d2"/></linearGradient><linearGradient id="r55"><stop offset="0.0024" stop-color="#0267e1"/><stop offset="0.0805" stop-color="#0269e1"/><stop offset="0.1049" stop-color="#0971de"/><stop offset="0.1146" stop-color="#046de0"/><stop offset="0.1195" stop-color="#0267e1"/><stop offset="0.1244" stop-color="#0860df"/><stop offset="0.1293" stop-color="#1857d8"/><stop offset="0.1341" stop-color="#2251d1"/><stop offset="0.1390" stop-color="#2251d1"/><stop offset="0.1439" stop-color="#1a56d7"/><stop offset="0.1488" stop-color="#0b5edf"/><stop offset="0.1537" stop-color="#0267e1"/><stop offset="0.1732" stop-color="#1079da"/><stop offset="0.1927" stop-color="#1485d4"/><stop offset="0.2220" stop-color="#0c94d2"/><stop offset="0.2902" stop-color="#079dcf"/><stop offset="0.5878" stop-color="#0b95d2"/><stop offset="0.7341" stop-color="#0e91d2"/><stop offset="0.9976" stop-color="#0e91d2"/></linearGradient><linearGradient id="r56"><stop offset="0.0024" stop-color="#0267e1"/><stop offset="0.0805" stop-color="#0269e1"/><stop offset="0.1049" stop-color="#0971de"/><stop offset="0.1195" stop-color="#0268e1"/><stop offset="0.1244" stop-color="#0860df"/><stop offset="0.1293" stop-color="#1a56d7"/><stop offset="0.1341" stop-color="#264ecd"/><stop offset="0.1390" stop-color="#294cc9"/><stop offset="0.1439" stop-color="#254fce"/><stop offset="0.1537" stop-color="#0761e0"/><stop offset="0.1585" stop-color="#0268e1"/><stop offset="0.1829" stop-color="#137dd7"/><stop offset="0.2122" stop-color="#128cd2"/><stop offset="0.2659" stop-color="#0998d1"/><stop offset="0.4707" stop-color="#0b96d1"/><stop offset="0.7098" stop-color="#118ed2"/><stop offset="0.9976" stop-color="#108ed2"/></linearGradient><linearGradient id="r57"><stop offset="0.0024" stop-color="#0267e1"/><stop offset="0.0805" stop-color="#0269e1"/><stop offset="0.1049" stop-color="#0971de"/><stop offset="0.1146" stop-color="#056ee0"/><stop offset="0.1195" stop-color="#0269e1"/><stop offset="0.1244" stop-color="#0761e0"/><stop offset="0.1341" stop-color="#274ecc"/><stop offset="0.1390" stop-color="#2d49c5"/><stop offset="0.1439" stop-color="#2c4ac6"/><stop offset="0.1488" stop-color="#2450cf"/><stop offset="0.1537" stop-color="#125adb"/><stop offset="0.1585" stop-color="#0464e1"/><stop offset="0.1634" stop-color="#036be1"/><stop offset="0.1829" stop-color="#127bd9"/><stop offset="0.2171" stop-color="#128bd2"/><stop offset="0.2854" stop-color="#0b95d2"/><stop offset="0.6366" stop-color="#128cd2"/><stop offset="0.9976" stop-color="#128ad3"/></linearGradient><linearGradient id="r58"><stop offset="0.0024" stop-color="#0266e1"/><stop offset="0.0805" stop-color="#0268e1"/><stop offset="0.1098" stop-color="#0871de"/><stop offset="0.1195" stop-color="#036ae1"/><stop offset="0.1244" stop-color="#0563e0"/><stop offset="0.1293" stop-color="#1559da"/><stop offset="0.1341" stop-color="#264ecd"/><stop offset="0.1390" stop-color="#2d49c3"/><stop offset="0.1439" stop-color="#2e48c1"/><stop offset="0.1488" stop-color="#2a4bc8"/><stop offset="0.1537" stop-color="#1e54d4"/><stop offset="0.1585" stop-color="#0b5edf"/><stop offset="0.1634" stop-color="#0267e1"/><stop offset="0.1829" stop-color="#1079da"/><stop offset="0.2122" stop-color="#1486d4"/><stop offset="0.2756" stop-color="#0e91d2"/><stop offset="0.7634" stop-color="#1487d3"/><stop offset="0.9976" stop-color="#1487d3"/></linearGradient><linearGradient id="r59"><stop offset="0.0024" stop-color="#0266e1"/><stop offset="0.0805" stop-color="#0268e1"/><stop offset="0.1098" stop-color="#0971de"/><stop offset="0.1244" stop-color="#0365e1"/><stop offset="0.1293" stop-color="#115bdc"/><stop offset="0.1341" stop-color="#2450cf"/><stop offset="0.1390" stop-color="#2d48c3"/><stop offset="0.1439" stop-color="#3046be"/><stop offset="0.1488" stop-color="#2e48c1"/><stop offset="0.1537" stop-color="#274ecc"/><stop offset="0.1585" stop-color="#1658d9"/><stop offset="0.1634" stop-color="#0562e0"/><stop offset="0.1683" stop-color="#0269e1"/><stop offset="0.1878" stop-color="#117ada"/><stop offset="0.2268" stop-color="#1487d3"/><stop offset="0.3000" stop-color="#128cd2"/><stop offset="0.7927" stop-color="#1484d4"/><stop offset="0.9976" stop-color="#1485d4"/></linearGradient><linearGradient id="r60"><stop offset="0.0024" stop-color="#0266e1"/><stop offset="0.0805" stop-color="#0268e1"/><stop offset="0.1098" stop-color="#0971de"/><stop offset="0.1195" stop-color="#046ce0"/><stop offset="0.1244" stop-color="#0266e1"/><stop offset="0.1293" stop-color="#0d5dde"/><stop offset="0.1341" stop-color="#2251d1"/><stop offset="0.1390" stop-color="#2d49c3"/><stop offset="0.1439" stop-color="#3144bb"/><stop offset="0.1488" stop-color="#3145bc"/><stop offset="0.1537" stop-color="#2d49c4"/><stop offset="0.1585" stop-color="#2151d1"/><stop offset="0.1634" stop-color="#0e5cdd"/><stop offset="0.1683" stop-color="#0365e1"/><stop offset="0.1732" stop-color="#036be0"/><stop offset="0.1878" stop-color="#0f78db"/><stop offset="0.2220" stop-color="#1484d4"/><stop offset="0.3146" stop-color="#1388d3"/><stop offset="0.7878" stop-color="#1482d5"/><stop offset="0.9976" stop-color="#1482d5"/></linearGradient><linearGradient id="r61"><stop offset="0.0024" stop-color="#0266e1"/><stop offset="0.0805" stop-color="#0268e1"/><stop offset="0.1098" stop-color="#0871de"/><stop offset="0.1195" stop-color="#046ce0"/><stop offset="0.1244" stop-color="#0267e1"/><stop offset="0.1293" stop-color="#0a5fdf"/><stop offset="0.1341" stop-color="#1f53d3"/><stop offset="0.1390" stop-color="#2d49c4"/><stop offset="0.1439" stop-color="#3244ba"/><stop offset="0.1488" stop-color="#3342b7"/><stop offset="0.1537" stop-color="#3045bd"/><stop offset="0.1585" stop-color="#294cc9"/><stop offset="0.1634" stop-color="#1a56d7"/><stop offset="0.1683" stop-color="#0860df"/><stop offset="0.1732" stop-color="#0268e1"/><stop offset="0.1927" stop-color="#0f78db"/><stop offset="0.2268" stop-color="#1481d5"/><stop offset="0.3293" stop-color="#1484d4"/><stop offset="0.8561" stop-color="#137fd6"/><stop offset="0.9829" stop-color="#1481d6"/><stop offset="0.9976" stop-color="#137fd6"/></linearGradient><linearGradient id="r62"><stop offset="0.0024" stop-color="#0266e1"/><stop offset="0.0805" stop-color="#0268e1"/><stop offset="0.1098" stop-color="#0871de"/><stop offset="0.1244" stop-color="#0268e1"/><stop offset="0.1293" stop-color="#0760e0"/><stop offset="0.1341" stop-color="#1c55d5"/><stop offset="0.1390" stop-color="#2c4ac5"/><stop offset="0.1439" stop-color="#3243b9"/><stop offset="0.1488" stop-color="#3340b4"/><stop offset="0.1537" stop-color="#3342b7"/><stop offset="0.1585" stop-color="#2e47c1"/><stop offset="0.1634" stop-color="#2450cf"/><stop offset="0.1683" stop-color="#115bdc"/><stop offset="0.1732" stop-color="#0364e1"/><stop offset="0.1829" stop-color="#0770df"/><stop offset="0.2073" stop-color="#117bd9"/><stop offset="0.2561" stop-color="#1480d6"/><stop offset="0.8854" stop-color="#137dd8"/><stop offset="0.9683" stop-color="#1480d6"/><stop offset="0.9976" stop-color="#127dd8"/></linearGradient><linearGradient id="r63"><stop offset="0.0024" stop-color="#0266e1"/><stop offset="0.0805" stop-color="#0267e1"/><stop offset="0.1098" stop-color="#0870df"/><stop offset="0.1195" stop-color="#056de0"/><stop offset="0.1244" stop-color="#0269e1"/><stop offset="0.1293" stop-color="#0661e0"/><stop offset="0.1341" stop-color="#1956d7"/><stop offset="0.1390" stop-color="#2b4bc7"/><stop offset="0.1439" stop-color="#3243b8"/><stop offset="0.1488" stop-color="#343fb1"/><stop offset="0.1537" stop-color="#343fb1"/><stop offset="0.1585" stop-color="#3243b9"/><stop offset="0.1634" stop-color="#2b4bc7"/><stop offset="0.1683" stop-color="#1c55d5"/><stop offset="0.1732" stop-color="#0860df"/><stop offset="0.1780" stop-color="#0268e1"/><stop offset="0.1927" stop-color="#0b73dd"/><stop offset="0.2268" stop-color="#127cd8"/><stop offset="0.8902" stop-color="#127cd8"/><stop offset="0.9878" stop-color="#127cd8"/><stop offset="0.9976" stop-color="#117ad9"/></linearGradient><linearGradient id="r64"><stop offset="0.0024" stop-color="#0266e1"/><stop offset="0.0854" stop-color="#0268e1"/><stop offset="0.1098" stop-color="#0770df"/><stop offset="0.1244" stop-color="#0269e1"/><stop offset="0.1293" stop-color="#0563e0"/><stop offset="0.1341" stop-color="#1658d9"/><stop offset="0.1390" stop-color="#294cc9"/><stop offset="0.1439" stop-color="#3243b9"/><stop offset="0.1488" stop-color="#353eaf"/><stop offset="0.1537" stop-color="#353dac"/><stop offset="0.1585" stop-color="#3440b2"/><stop offset="0.1634" stop-color="#3046be"/><stop offset="0.1683" stop-color="#264fcd"/><stop offset="0.1732" stop-color="#125bdc"/><stop offset="0.1780" stop-color="#0365e1"/><stop offset="0.1976" stop-color="#0b73dd"/><stop offset="0.2268" stop-color="#1079da"/><stop offset="0.8707" stop-color="#1079da"/><stop offset="0.9488" stop-color="#127cd8"/><stop offset="0.9976" stop-color="#0f78db"/></linearGradient><linearGradient id="r65"><stop offset="0.0024" stop-color="#0265e1"/><stop offset="0.0854" stop-color="#0268e1"/><stop offset="0.1098" stop-color="#076fdf"/><stop offset="0.1244" stop-color="#0269e1"/><stop offset="0.1293" stop-color="#0463e1"/><stop offset="0.1341" stop-color="#135adb"/><stop offset="0.1390" stop-color="#284dcb"/><stop offset="0.1439" stop-color="#3243b9"/><stop offset="0.1488" stop-color="#353dad"/><stop offset="0.1537" stop-color="#353ba9"/><stop offset="0.1585" stop-color="#353cac"/><stop offset="0.1634" stop-color="#3342b6"/><stop offset="0.1683" stop-color="#2c49c4"/><stop offset="0.1732" stop-color="#1c54d5"/><stop offset="0.1780" stop-color="#0860e0"/><stop offset="0.1829" stop-color="#0267e1"/><stop offset="0.1976" stop-color="#0871de"/><stop offset="0.2268" stop-color="#0e77db"/><stop offset="0.8561" stop-color="#0e77db"/><stop offset="0.9488" stop-color="#117bd9"/><stop offset="0.9976" stop-color="#0d75dc"/></linearGradient><linearGradient id="r66"><stop offset="0.0024" stop-color="#0265e1"/><stop offset="0.0805" stop-color="#0267e1"/><stop offset="0.1146" stop-color="#066edf"/><stop offset="0.1244" stop-color="#026ae1"/><stop offset="0.1293" stop-color="#0364e1"/><stop offset="0.1341" stop-color="#105bdc"/><stop offset="0.1390" stop-color="#254fce"/><stop offset="0.1439" stop-color="#3145bc"/><stop offset="0.1488" stop-color="#353dae"/><stop offset="0.1537" stop-color="#363aa7"/><stop offset="0.1585" stop-color="#353aa8"/><stop offset="0.1634" stop-color="#343fb0"/><stop offset="0.1683" stop-color="#3045bd"/><stop offset="0.1732" stop-color="#2450cf"/><stop offset="0.1780" stop-color="#0e5cdd"/><stop offset="0.1829" stop-color="#0265e1"/><stop offset="0.2024" stop-color="#0871de"/><stop offset="0.2317" stop-color="#0d75dc"/><stop offset="0.8415" stop-color="#0c74dd"/><stop offset="0.9293" stop-color="#1079da"/><stop offset="0.9878" stop-color="#0c75dd"/><stop offset="0.9976" stop-color="#0b73dd"/></linearGradient><linearGradient id="r67"><stop offset="0.0024" stop-color="#0265e1"/><stop offset="0.0854" stop-color="#0267e1"/><stop offset="0.1146" stop-color="#056ee0"/><stop offset="0.1293" stop-color="#0265e1"/><stop offset="0.1341" stop-color="#0c5dde"/><stop offset="0.1390" stop-color="#2152d2"/><stop offset="0.1439" stop-color="#2f47c0"/><stop offset="0.1488" stop-color="#343fb1"/><stop offset="0.1537" stop-color="#363aa7"/><stop offset="0.1585" stop-color="#363aa6"/><stop offset="0.1634" stop-color="#353dac"/><stop offset="0.1683" stop-color="#3243b8"/><stop offset="0.1732" stop-color="#284dca"/><stop offset="0.1780" stop-color="#1459db"/><stop offset="0.1829" stop-color="#0463e1"/><stop offset="0.1927" stop-color="#046ce0"/><stop offset="0.2220" stop-color="#0c74dd"/><stop offset="0.8512" stop-color="#0c74dd"/><stop offset="0.9341" stop-color="#0f78db"/><stop offset="0.9976" stop-color="#0a72de"/></linearGradient><linearGradient id="r68"><stop offset="0.0024" stop-color="#0265e1"/><stop offset="0.0854" stop-color="#0267e1"/><stop offset="0.1146" stop-color="#046de0"/><stop offset="0.1293" stop-color="#0266e1"/><stop offset="0.1341" stop-color="#095fdf"/><stop offset="0.1390" stop-color="#1c54d5"/><stop offset="0.1439" stop-color="#2d49c4"/><stop offset="0.1488" stop-color="#3340b4"/><stop offset="0.1537" stop-color="#353ba9"/><stop offset="0.1585" stop-color="#3639a5"/><stop offset="0.1634" stop-color="#353ba9"/><stop offset="0.1683" stop-color="#3341b4"/><stop offset="0.1732" stop-color="#2c4ac5"/><stop offset="0.1780" stop-color="#1a56d7"/><stop offset="0.1829" stop-color="#0761e0"/><stop offset="0.1878" stop-color="#0267e1"/><stop offset="0.2073" stop-color="#0871de"/><stop offset="0.2366" stop-color="#0b73dd"/><stop offset="0.8512" stop-color="#0b73dd"/><stop offset="0.9390" stop-color="#0d76dc"/><stop offset="0.9976" stop-color="#0971de"/></linearGradient><linearGradient id="r69"><stop offset="0.0024" stop-color="#0265e1"/><stop offset="0.0902" stop-color="#0267e1"/><stop offset="0.1195" stop-color="#036be0"/><stop offset="0.1293" stop-color="#0266e1"/><stop offset="0.1341" stop-color="#0661e0"/><stop offset="0.1390" stop-color="#1757d9"/><stop offset="0.1439" stop-color="#294cc9"/><stop offset="0.1488" stop-color="#3243b8"/><stop offset="0.1537" stop-color="#353cac"/><stop offset="0.1585" stop-color="#363aa6"/><stop offset="0.1634" stop-color="#353ba8"/><stop offset="0.1683" stop-color="#343fb1"/><stop offset="0.1732" stop-color="#2f47c1"/><stop offset="0.1780" stop-color="#1f53d3"/><stop offset="0.1829" stop-color="#0b5edf"/><stop offset="0.1878" stop-color="#0266e1"/><stop offset="0.2073" stop-color="#0770df"/><stop offset="0.2366" stop-color="#0a73de"/><stop offset="0.8415" stop-color="#0971de"/><stop offset="0.9195" stop-color="#0c75dd"/><stop offset="0.9976" stop-color="#0870df"/></linearGradient><linearGradient id="r70"><stop offset="0.0024" stop-color="#0265e1"/><stop offset="0.0902" stop-color="#0267e1"/><stop offset="0.1195" stop-color="#036ae1"/><stop offset="0.1293" stop-color="#0267e1"/><stop offset="0.1341" stop-color="#0562e0"/><stop offset="0.1390" stop-color="#125adc"/><stop offset="0.1439" stop-color="#244fcf"/><stop offset="0.1488" stop-color="#3046be"/><stop offset="0.1537" stop-color="#343fb0"/><stop offset="0.1585" stop-color="#353ba9"/><stop offset="0.1634" stop-color="#353ba8"/><stop offset="0.1683" stop-color="#343eaf"/><stop offset="0.1732" stop-color="#3045bd"/><stop offset="0.1780" stop-color="#2350d0"/><stop offset="0.1829" stop-color="#0f5cdd"/><stop offset="0.1878" stop-color="#0364e1"/><stop offset="0.2024" stop-color="#056ee0"/><stop offset="0.2317" stop-color="#0972de"/><stop offset="0.8415" stop-color="#0870df"/><stop offset="0.9293" stop-color="#0a73de"/><stop offset="0.9976" stop-color="#076fdf"/></linearGradient><linearGradient id="r71"><stop offset="0.0024" stop-color="#0265e1"/><stop offset="0.0951" stop-color="#0267e1"/><stop offset="0.1244" stop-color="#0269e1"/><stop offset="0.1341" stop-color="#0463e1"/><stop offset="0.1390" stop-color="#0e5cdd"/><stop offset="0.1439" stop-color="#2052d3"/><stop offset="0.1488" stop-color="#2d48c3"/><stop offset="0.1537" stop-color="#3341b5"/><stop offset="0.1585" stop-color="#353cac"/><stop offset="0.1634" stop-color="#353baa"/><stop offset="0.1683" stop-color="#353eaf"/><stop offset="0.1732" stop-color="#3145bc"/><stop offset="0.1780" stop-color="#264ecd"/><stop offset="0.1829" stop-color="#125adb"/><stop offset="0.1878" stop-color="#0462e0"/><stop offset="0.1976" stop-color="#036be1"/><stop offset="0.2268" stop-color="#0971de"/><stop offset="0.8415" stop-color="#076fdf"/><stop offset="0.9195" stop-color="#0971de"/><stop offset="0.9976" stop-color="#066edf"/></linearGradient><linearGradient id="r72"><stop offset="0.0024" stop-color="#0364e1"/><stop offset="0.0951" stop-color="#0267e1"/><stop offset="0.1244" stop-color="#0268e1"/><stop offset="0.1341" stop-color="#0363e1"/><stop offset="0.1390" stop-color="#0c5ede"/><stop offset="0.1439" stop-color="#1c55d6"/><stop offset="0.1488" stop-color="#2b4bc7"/><stop offset="0.1585" stop-color="#353eaf"/><stop offset="0.1634" stop-color="#353cac"/><stop offset="0.1683" stop-color="#343eaf"/><stop offset="0.1732" stop-color="#3144bb"/><stop offset="0.1780" stop-color="#284dcb"/><stop offset="0.1829" stop-color="#1558da"/><stop offset="0.1878" stop-color="#0661e0"/><stop offset="0.1927" stop-color="#0267e1"/><stop offset="0.2171" stop-color="#0770df"/><stop offset="0.8463" stop-color="#066edf"/><stop offset="0.9390" stop-color="#066edf"/><stop offset="0.9976" stop-color="#056de0"/></linearGradient><linearGradient id="r73"><stop offset="0.0024" stop-color="#0364e1"/><stop offset="0.0902" stop-color="#0266e1"/><stop offset="0.1244" stop-color="#0268e1"/><stop offset="0.1341" stop-color="#0364e1"/><stop offset="0.1390" stop-color="#0a5fdf"/><stop offset="0.1439" stop-color="#1857d8"/><stop offset="0.1488" stop-color="#284dcb"/><stop offset="0.1585" stop-color="#3440b2"/><stop offset="0.1634" stop-color="#353dae"/><stop offset="0.1683" stop-color="#343fb0"/><stop offset="0.1732" stop-color="#3144ba"/><stop offset="0.1780" stop-color="#294cca"/><stop offset="0.1829" stop-color="#1857d8"/><stop offset="0.1878" stop-color="#0860e0"/><stop offset="0.1927" stop-color="#0266e1"/><stop offset="0.2220" stop-color="#0770df"/><stop offset="0.8463" stop-color="#056de0"/><stop offset="0.9439" stop-color="#046de0"/><stop offset="0.9976" stop-color="#046ce0"/></linearGradient><linearGradient id="r74"><stop offset="0.0024" stop-color="#0364e1"/><stop offset="0.0951" stop-color="#0266e1"/><stop offset="0.1293" stop-color="#0266e1"/><stop offset="0.1341" stop-color="#0364e1"/><stop offset="0.1390" stop-color="#095fdf"/><stop offset="0.1439" stop-color="#1559da"/><stop offset="0.1488" stop-color="#244fcf"/><stop offset="0.1537" stop-color="#2e47c1"/><stop offset="0.1585" stop-color="#3342b6"/><stop offset="0.1634" stop-color="#343fb0"/><stop offset="0.1683" stop-color="#343fb1"/><stop offset="0.1732" stop-color="#3144ba"/><stop offset="0.1780" stop-color="#2a4bc8"/><stop offset="0.1829" stop-color="#1b55d7"/><stop offset="0.1878" stop-color="#0a5fdf"/><stop offset="0.1927" stop-color="#0265e1"/><stop offset="0.2122" stop-color="#056de0"/><stop offset="0.4317" stop-color="#056ee0"/><stop offset="0.8463" stop-color="#046ce0"/><stop offset="0.9244" stop-color="#046ce0"/><stop offset="0.9976" stop-color="#036be0"/></linearGradient><linearGradient id="r75"><stop offset="0.0024" stop-color="#0364e1"/><stop offset="0.0951" stop-color="#0266e1"/><stop offset="0.1293" stop-color="#0266e1"/><stop offset="0.1390" stop-color="#0760e0"/><stop offset="0.1439" stop-color="#125adc"/><stop offset="0.1537" stop-color="#2c4ac5"/><stop offset="0.1585" stop-color="#3244ba"/><stop offset="0.1634" stop-color="#3340b3"/><stop offset="0.1683" stop-color="#3440b3"/><stop offset="0.1732" stop-color="#3144ba"/><stop offset="0.1780" stop-color="#2b4bc7"/><stop offset="0.1829" stop-color="#1d54d5"/><stop offset="0.1878" stop-color="#0c5dde"/><stop offset="0.1927" stop-color="#0364e1"/><stop offset="0.2122" stop-color="#046de0"/><stop offset="0.8512" stop-color="#036be0"/><stop offset="0.9976" stop-color="#036ae1"/></linearGradient><linearGradient id="r76"><stop offset="0.0024" stop-color="#0364e1"/><stop offset="0.1000" stop-color="#0266e1"/><stop offset="0.1293" stop-color="#0266e1"/><stop offset="0.1390" stop-color="#0561e0"/><stop offset="0.1439" stop-color="#0f5cdd"/><stop offset="0.1537" stop-color="#2a4cc9"/><stop offset="0.1585" stop-color="#3045bd"/><stop offset="0.1634" stop-color="#3342b6"/><stop offset="0.1683" stop-color="#3341b5"/><stop offset="0.1732" stop-color="#3144bb"/><stop offset="0.1780" stop-color="#2b4ac6"/><stop offset="0.1829" stop-color="#1f53d4"/><stop offset="0.1878" stop-color="#0f5cdd"/><stop offset="0.1927" stop-color="#0462e1"/><stop offset="0.2122" stop-color="#046ce0"/><stop offset="0.8561" stop-color="#036ae1"/><stop offset="0.9976" stop-color="#0269e1"/></linearGradient><linearGradient id="r77"><stop offset="0.0024" stop-color="#0364e1"/><stop offset="0.1049" stop-color="#0266e1"/><stop offset="0.1341" stop-color="#0265e1"/><stop offset="0.1390" stop-color="#0462e1"/><stop offset="0.1439" stop-color="#0c5ede"/><stop offset="0.1537" stop-color="#274ecc"/><stop offset="0.1634" stop-color="#3243b9"/><stop offset="0.1683" stop-color="#3342b7"/><stop offset="0.1732" stop-color="#3144bb"/><stop offset="0.1780" stop-color="#2c4ac6"/><stop offset="0.1829" stop-color="#2152d2"/><stop offset="0.1878" stop-color="#115bdc"/><stop offset="0.1927" stop-color="#0661e0"/><stop offset="0.2024" stop-color="#0268e1"/><stop offset="0.2317" stop-color="#046ce0"/><stop offset="0.8463" stop-color="#0269e1"/><stop offset="0.9976" stop-color="#0268e1"/></linearGradient><linearGradient id="r78"><stop offset="0.0024" stop-color="#0364e1"/><stop offset="0.1146" stop-color="#0266e1"/><stop offset="0.1341" stop-color="#0265e1"/><stop offset="0.1390" stop-color="#0363e1"/><stop offset="0.1488" stop-color="#1559da"/><stop offset="0.1537" stop-color="#2351d0"/><stop offset="0.1585" stop-color="#2c4ac5"/><stop offset="0.1683" stop-color="#3243b9"/><stop offset="0.1732" stop-color="#3145bc"/><stop offset="0.1780" stop-color="#2c4ac5"/><stop offset="0.1829" stop-color="#2251d1"/><stop offset="0.1878" stop-color="#135adb"/><stop offset="0.1927" stop-color="#0860e0"/><stop offset="0.2024" stop-color="#0267e1"/><stop offset="0.2317" stop-color="#036be0"/><stop offset="0.8463" stop-color="#0267e1"/><stop offset="0.9976" stop-color="#0267e1"/></linearGradient><linearGradient id="r79"><stop offset="0.0024" stop-color="#0364e1"/><stop offset="0.1341" stop-color="#0265e1"/><stop offset="0.1439" stop-color="#0860e0"/><stop offset="0.1537" stop-color="#1e53d4"/><stop offset="0.1585" stop-color="#294cc9"/><stop offset="0.1634" stop-color="#2f47c0"/><stop offset="0.1683" stop-color="#3145bc"/><stop offset="0.1732" stop-color="#3046be"/><stop offset="0.1780" stop-color="#2c4ac5"/><stop offset="0.1829" stop-color="#2350d0"/><stop offset="0.1878" stop-color="#1558da"/><stop offset="0.1976" stop-color="#0363e1"/><stop offset="0.2171" stop-color="#036ae1"/><stop offset="0.6122" stop-color="#0267e1"/><stop offset="0.9976" stop-color="#0266e1"/></linearGradient><linearGradient id="r80"><stop offset="0.0024" stop-color="#0363e1"/><stop offset="0.1341" stop-color="#0265e1"/><stop offset="0.1439" stop-color="#0661e0"/><stop offset="0.1488" stop-color="#0e5dde"/><stop offset="0.1585" stop-color="#254fce"/><stop offset="0.1634" stop-color="#2d49c4"/><stop offset="0.1683" stop-color="#2f46bf"/><stop offset="0.1732" stop-color="#2f47bf"/><stop offset="0.1780" stop-color="#2c4ac6"/><stop offset="0.1829" stop-color="#2450cf"/><stop offset="0.1878" stop-color="#1757d9"/><stop offset="0.1927" stop-color="#0b5ede"/><stop offset="0.1976" stop-color="#0462e1"/><stop offset="0.2220" stop-color="#026ae1"/><stop offset="0.8366" stop-color="#0364e1"/><stop offset="0.9976" stop-color="#0364e1"/></linearGradient><linearGradient id="r81"><stop offset="0.0024" stop-color="#0363e1"/><stop offset="0.1390" stop-color="#0364e1"/><stop offset="0.1439" stop-color="#0561e0"/><stop offset="0.1537" stop-color="#1758d9"/><stop offset="0.1634" stop-color="#2b4bc7"/><stop offset="0.1683" stop-color="#2e48c1"/><stop offset="0.1732" stop-color="#2f47c1"/><stop offset="0.1829" stop-color="#254fcf"/><stop offset="0.1927" stop-color="#0d5dde"/><stop offset="0.1976" stop-color="#0561e0"/><stop offset="0.2220" stop-color="#0269e1"/><stop offset="0.6463" stop-color="#0364e1"/><stop offset="0.9976" stop-color="#0363e1"/></linearGradient><linearGradient id="r82"><stop offset="0.0024" stop-color="#0363e1"/><stop offset="0.1390" stop-color="#0364e1"/><stop offset="0.1439" stop-color="#0561e0"/><stop offset="0.1537" stop-color="#1658da"/><stop offset="0.1634" stop-color="#2a4cc9"/><stop offset="0.1683" stop-color="#2e48c3"/><stop offset="0.1732" stop-color="#2e48c2"/><stop offset="0.1780" stop-color="#2c4ac6"/><stop offset="0.1878" stop-color="#1b56d7"/><stop offset="0.1976" stop-color="#0760e0"/><stop offset="0.2073" stop-color="#0265e1"/><stop offset="0.2512" stop-color="#0268e1"/><stop offset="0.6512" stop-color="#0462e1"/><stop offset="0.8951" stop-color="#0363e1"/><stop offset="0.9976" stop-color="#0562e0"/></linearGradient><linearGradient id="r83"><stop offset="0.0024" stop-color="#0363e1"/><stop offset="0.1390" stop-color="#0363e1"/><stop offset="0.1488" stop-color="#0b5edf"/><stop offset="0.1634" stop-color="#294cca"/><stop offset="0.1683" stop-color="#2d49c4"/><stop offset="0.1732" stop-color="#2d48c3"/><stop offset="0.1829" stop-color="#254fcf"/><stop offset="0.1927" stop-color="#105bdd"/><stop offset="0.2024" stop-color="#0463e1"/><stop offset="0.2415" stop-color="#0267e1"/><stop offset="0.4756" stop-color="#0365e1"/><stop offset="0.6366" stop-color="#0661e0"/><stop offset="0.8707" stop-color="#0661e0"/><stop offset="0.9439" stop-color="#0363e1"/><stop offset="0.9976" stop-color="#0860e0"/></linearGradient><linearGradient id="r84"><stop offset="0.0024" stop-color="#0363e1"/><stop offset="0.1390" stop-color="#0363e1"/><stop offset="0.1488" stop-color="#0b5edf"/><stop offset="0.1585" stop-color="#1f53d4"/><stop offset="0.1634" stop-color="#284dcb"/><stop offset="0.1683" stop-color="#2c4ac5"/><stop offset="0.1732" stop-color="#2d49c4"/><stop offset="0.1780" stop-color="#2b4bc8"/><stop offset="0.1927" stop-color="#105bdd"/><stop offset="0.2024" stop-color="#0562e0"/><stop offset="0.2415" stop-color="#0266e1"/><stop offset="0.4756" stop-color="#0364e1"/><stop offset="0.7293" stop-color="#0b5edf"/><stop offset="0.8610" stop-color="#095fdf"/><stop offset="0.9390" stop-color="#0462e1"/><stop offset="0.9976" stop-color="#0b5edf"/></linearGradient><linearGradient id="r85"><stop offset="0.0024" stop-color="#0363e1"/><stop offset="0.1390" stop-color="#0363e1"/><stop offset="0.1488" stop-color="#0b5edf"/><stop offset="0.1585" stop-color="#1e54d5"/><stop offset="0.1683" stop-color="#2c4ac6"/><stop offset="0.1732" stop-color="#2c49c5"/><stop offset="0.1829" stop-color="#2450d0"/><stop offset="0.1927" stop-color="#105cdd"/><stop offset="0.2024" stop-color="#0562e0"/><stop offset="0.2561" stop-color="#0265e1"/><stop offset="0.4707" stop-color="#0363e1"/><stop offset="0.7146" stop-color="#0e5cde"/><stop offset="0.8512" stop-color="#0c5ede"/><stop offset="0.9293" stop-color="#0661e0"/><stop offset="0.9976" stop-color="#0d5dde"/></linearGradient><linearGradient id="r86"><stop offset="0.0024" stop-color="#0462e1"/><stop offset="0.1439" stop-color="#0561e0"/><stop offset="0.1537" stop-color="#125adc"/><stop offset="0.1634" stop-color="#254fce"/><stop offset="0.1683" stop-color="#2b4bc8"/><stop offset="0.1732" stop-color="#2c4ac6"/><stop offset="0.1829" stop-color="#2350d0"/><stop offset="0.1927" stop-color="#0f5cdd"/><stop offset="0.2024" stop-color="#0562e0"/><stop offset="0.4512" stop-color="#0363e1"/><stop offset="0.7049" stop-color="#105bdd"/><stop offset="0.8463" stop-color="#0e5cde"/><stop offset="0.9293" stop-color="#0860df"/><stop offset="0.9976" stop-color="#105bdd"/></linearGradient><linearGradient id="r87"><stop offset="0.0024" stop-color="#0462e1"/><stop offset="0.1390" stop-color="#0363e1"/><stop offset="0.1488" stop-color="#0a5fdf"/><stop offset="0.1585" stop-color="#1c55d6"/><stop offset="0.1683" stop-color="#2a4cc9"/><stop offset="0.1732" stop-color="#2b4bc7"/><stop offset="0.1829" stop-color="#2351d1"/><stop offset="0.1927" stop-color="#0f5cdd"/><stop offset="0.2024" stop-color="#0562e0"/><stop offset="0.4415" stop-color="#0363e1"/><stop offset="0.7049" stop-color="#125adc"/><stop offset="0.8415" stop-color="#105bdd"/><stop offset="0.9244" stop-color="#0a5edf"/><stop offset="0.9976" stop-color="#125adc"/></linearGradient><linearGradient id="r88"><stop offset="0.0024" stop-color="#0462e1"/><stop offset="0.1098" stop-color="#0661e0"/><stop offset="0.1390" stop-color="#0462e1"/><stop offset="0.1537" stop-color="#105bdd"/><stop offset="0.1634" stop-color="#2350d0"/><stop offset="0.1732" stop-color="#2a4bc8"/><stop offset="0.1829" stop-color="#2251d1"/><stop offset="0.1927" stop-color="#0f5cdd"/><stop offset="0.2024" stop-color="#0562e0"/><stop offset="0.4415" stop-color="#0462e1"/><stop offset="0.7049" stop-color="#1459db"/><stop offset="0.8415" stop-color="#125adb"/><stop offset="0.9146" stop-color="#0c5dde"/><stop offset="0.9780" stop-color="#135adb"/><stop offset="0.9976" stop-color="#1459db"/></linearGradient><linearGradient id="r89"><stop offset="0.0024" stop-color="#0462e0"/><stop offset="0.1049" stop-color="#0760e0"/><stop offset="0.1244" stop-color="#0661e0"/><stop offset="0.1439" stop-color="#0661e0"/><stop offset="0.1537" stop-color="#105cdd"/><stop offset="0.1634" stop-color="#2251d1"/><stop offset="0.1732" stop-color="#294cc9"/><stop offset="0.1829" stop-color="#2252d2"/><stop offset="0.1927" stop-color="#0f5cdd"/><stop offset="0.2024" stop-color="#0562e0"/><stop offset="0.4220" stop-color="#0363e1"/><stop offset="0.6951" stop-color="#1558da"/><stop offset="0.8415" stop-color="#1459da"/><stop offset="0.9098" stop-color="#0e5cde"/><stop offset="0.9878" stop-color="#1558da"/><stop offset="0.9976" stop-color="#1558da"/></linearGradient><linearGradient id="r90"><stop offset="0.0024" stop-color="#0562e0"/><stop offset="0.0951" stop-color="#0761e0"/><stop offset="0.1244" stop-color="#0761e0"/><stop offset="0.1439" stop-color="#0661e0"/><stop offset="0.1537" stop-color="#0f5cdd"/><stop offset="0.1634" stop-color="#2152d2"/><stop offset="0.1732" stop-color="#284dcb"/><stop offset="0.1829" stop-color="#2152d2"/><stop offset="0.1927" stop-color="#0f5cdd"/><stop offset="0.2024" stop-color="#0561e0"/><stop offset="0.2463" stop-color="#0364e1"/><stop offset="0.4366" stop-color="#0561e0"/><stop offset="0.6561" stop-color="#1658da"/><stop offset="0.8415" stop-color="#1658d9"/><stop offset="0.9049" stop-color="#115bdd"/><stop offset="0.9634" stop-color="#1758d9"/><stop offset="0.9976" stop-color="#1757d9"/></linearGradient><linearGradient id="r91"><stop offset="0.0024" stop-color="#0562e0"/><stop offset="0.0951" stop-color="#0760e0"/><stop offset="0.1195" stop-color="#095fdf"/><stop offset="0.1390" stop-color="#0561e0"/><stop offset="0.1537" stop-color="#0e5cde"/><stop offset="0.1634" stop-color="#2053d3"/><stop offset="0.1732" stop-color="#274ecc"/><stop offset="0.1829" stop-color="#2052d3"/><stop offset="0.1976" stop-color="#095fdf"/><stop offset="0.2073" stop-color="#0363e1"/><stop offset="0.4220" stop-color="#0561e0"/><stop offset="0.6171" stop-color="#1459db"/><stop offset="0.7049" stop-color="#1956d8"/><stop offset="0.8463" stop-color="#1857d9"/><stop offset="0.9098" stop-color="#1359db"/><stop offset="0.9829" stop-color="#1957d8"/><stop offset="0.9976" stop-color="#1957d8"/></linearGradient><linearGradient id="r92"><stop offset="0.0024" stop-color="#0561e0"/><stop offset="0.0951" stop-color="#0760e0"/><stop offset="0.1244" stop-color="#095fdf"/><stop offset="0.1439" stop-color="#0761e0"/><stop offset="0.1537" stop-color="#0e5dde"/><stop offset="0.1683" stop-color="#2450cf"/><stop offset="0.1780" stop-color="#254fcf"/><stop offset="0.1878" stop-color="#1758d9"/><stop offset="0.1976" stop-color="#095fdf"/><stop offset="0.2122" stop-color="#0363e1"/><stop offset="0.4073" stop-color="#0561e0"/><stop offset="0.6024" stop-color="#1459db"/><stop offset="0.7049" stop-color="#1b55d7"/><stop offset="0.8512" stop-color="#1956d8"/><stop offset="0.9098" stop-color="#1658d9"/><stop offset="0.9683" stop-color="#1b56d7"/><stop offset="0.9976" stop-color="#1b56d7"/></linearGradient><linearGradient id="r93"><stop offset="0.0024" stop-color="#0561e0"/><stop offset="0.1000" stop-color="#0860df"/><stop offset="0.1293" stop-color="#0860df"/><stop offset="0.1439" stop-color="#0760e0"/><stop offset="0.1537" stop-color="#0d5dde"/><stop offset="0.1683" stop-color="#2351d0"/><stop offset="0.1780" stop-color="#2450d0"/><stop offset="0.1878" stop-color="#1658d9"/><stop offset="0.1976" stop-color="#095fdf"/><stop offset="0.2171" stop-color="#0363e1"/><stop offset="0.3878" stop-color="#0561e0"/><stop offset="0.5878" stop-color="#1459db"/><stop offset="0.6902" stop-color="#1c55d6"/><stop offset="0.8512" stop-color="#1b55d7"/><stop offset="0.9146" stop-color="#1956d8"/><stop offset="0.9585" stop-color="#1d55d6"/><stop offset="0.9976" stop-color="#1c55d6"/></linearGradient><linearGradient id="r94"><stop offset="0.0024" stop-color="#0661e0"/><stop offset="0.0951" stop-color="#0860e0"/><stop offset="0.1341" stop-color="#0860e0"/><stop offset="0.1488" stop-color="#095fdf"/><stop offset="0.1585" stop-color="#1359db"/><stop offset="0.1683" stop-color="#2251d2"/><stop offset="0.1780" stop-color="#2351d0"/><stop offset="0.1927" stop-color="#0e5cde"/><stop offset="0.2073" stop-color="#0462e1"/><stop offset="0.3780" stop-color="#0561e0"/><stop offset="0.5732" stop-color="#1459db"/><stop offset="0.6951" stop-color="#1e54d5"/><stop offset="0.8512" stop-color="#1d54d5"/><stop offset="0.9195" stop-color="#1d54d6"/><stop offset="0.9976" stop-color="#1e54d5"/></linearGradient><linearGradient id="r95"><stop offset="0.0024" stop-color="#0661e0"/><stop offset="0.0951" stop-color="#0860df"/><stop offset="0.1244" stop-color="#0a5fdf"/><stop offset="0.1488" stop-color="#095fdf"/><stop offset="0.1585" stop-color="#125adb"/><stop offset="0.1683" stop-color="#2152d3"/><stop offset="0.1780" stop-color="#2251d1"/><stop offset="0.1927" stop-color="#0e5cde"/><stop offset="0.2073" stop-color="#0462e1"/><stop offset="0.3634" stop-color="#0562e0"/><stop offset="0.5585" stop-color="#1459db"/><stop offset="0.6951" stop-color="#2053d4"/><stop offset="0.8561" stop-color="#1f53d5"/><stop offset="0.9195" stop-color="#1f53d4"/><stop offset="0.9488" stop-color="#2053d4"/><stop offset="0.9976" stop-color="#2053d4"/></linearGradient><linearGradient id="r96"><stop offset="0.0024" stop-color="#0661e0"/><stop offset="0.0951" stop-color="#0860df"/><stop offset="0.1244" stop-color="#0a5fdf"/><stop offset="0.1488" stop-color="#095fdf"/><stop offset="0.1585" stop-color="#125adc"/><stop offset="0.1683" stop-color="#1f53d4"/><stop offset="0.1780" stop-color="#2152d2"/><stop offset="0.1927" stop-color="#0e5dde"/><stop offset="0.2073" stop-color="#0462e1"/><stop offset="0.3585" stop-color="#0561e0"/><stop offset="0.5439" stop-color="#1459db"/><stop offset="0.6854" stop-color="#2152d2"/><stop offset="0.8610" stop-color="#2052d3"/><stop offset="0.9976" stop-color="#2152d3"/></linearGradient><linearGradient id="r97"><stop offset="0.0024" stop-color="#0661e0"/><stop offset="0.0951" stop-color="#0860df"/><stop offset="0.1244" stop-color="#0a5fdf"/><stop offset="0.1488" stop-color="#0a5fdf"/><stop offset="0.1585" stop-color="#115bdc"/><stop offset="0.1683" stop-color="#1e54d5"/><stop offset="0.1780" stop-color="#2053d3"/><stop offset="0.1976" stop-color="#095fdf"/><stop offset="0.2171" stop-color="#0363e1"/><stop offset="0.3732" stop-color="#0760e0"/><stop offset="0.5488" stop-color="#1658da"/><stop offset="0.6854" stop-color="#2251d1"/><stop offset="0.9976" stop-color="#2251d1"/></linearGradient><linearGradient id="r98"><stop offset="0.0024" stop-color="#0661e0"/><stop offset="0.1000" stop-color="#095fdf"/><stop offset="0.1488" stop-color="#0a5fdf"/><stop offset="0.1634" stop-color="#1658d9"/><stop offset="0.1732" stop-color="#2053d4"/><stop offset="0.1829" stop-color="#1a56d7"/><stop offset="0.1976" stop-color="#095fdf"/><stop offset="0.2171" stop-color="#0363e1"/><stop offset="0.3683" stop-color="#0760e0"/><stop offset="0.5341" stop-color="#1658da"/><stop offset="0.6805" stop-color="#2350d0"/><stop offset="0.9341" stop-color="#2350d0"/><stop offset="0.9976" stop-color="#2350d0"/></linearGradient><linearGradient id="r99"><stop offset="0.0024" stop-color="#0761e0"/><stop offset="0.0951" stop-color="#095fdf"/><stop offset="0.1488" stop-color="#0a5fdf"/><stop offset="0.1585" stop-color="#0f5cdd"/><stop offset="0.1732" stop-color="#1e54d5"/><stop offset="0.1780" stop-color="#1e54d5"/><stop offset="0.1976" stop-color="#095fdf"/><stop offset="0.2220" stop-color="#0363e1"/><stop offset="0.3732" stop-color="#0860df"/><stop offset="0.5244" stop-color="#1658da"/><stop offset="0.6854" stop-color="#254fce"/><stop offset="0.9341" stop-color="#2450cf"/><stop offset="0.9976" stop-color="#254fcf"/></linearGradient><linearGradient id="r100"><stop offset="0.0024" stop-color="#0761e0"/><stop offset="0.0951" stop-color="#095fdf"/><stop offset="0.1244" stop-color="#0b5edf"/><stop offset="0.1488" stop-color="#0a5fdf"/><stop offset="0.1634" stop-color="#1459db"/><stop offset="0.1732" stop-color="#1c55d6"/><stop offset="0.1829" stop-color="#1857d8"/><stop offset="0.2024" stop-color="#0661e0"/><stop offset="0.3195" stop-color="#0661e0"/><stop offset="0.4951" stop-color="#1459db"/><stop offset="0.6756" stop-color="#264fcd"/><stop offset="0.9341" stop-color="#254fce"/><stop offset="0.9976" stop-color="#264fcd"/></linearGradient><linearGradient id="r101"><stop offset="0.0024" stop-color="#0760e0"/><stop offset="0.0951" stop-color="#095fdf"/><stop offset="0.1293" stop-color="#0b5edf"/><stop offset="0.1537" stop-color="#0c5ede"/><stop offset="0.1732" stop-color="#1c55d6"/><stop offset="0.1829" stop-color="#1857d8"/><stop offset="0.2024" stop-color="#0661e0"/><stop offset="0.3049" stop-color="#0561e0"/><stop offset="0.4854" stop-color="#1459db"/><stop offset="0.6756" stop-color="#274ecc"/><stop offset="0.9146" stop-color="#264ecc"/><stop offset="0.9976" stop-color="#274ecc"/></linearGradient><linearGradient id="r102"><stop offset="0.0024" stop-color="#0760e0"/><stop offset="0.0951" stop-color="#095fdf"/><stop offset="0.1244" stop-color="#0b5ede"/><stop offset="0.1537" stop-color="#0c5ede"/><stop offset="0.1732" stop-color="#1c55d6"/><stop offset="0.1829" stop-color="#1857d8"/><stop offset="0.1976" stop-color="#095fdf"/><stop offset="0.2220" stop-color="#0462e1"/><stop offset="0.3537" stop-color="#0860df"/><stop offset="0.5195" stop-color="#1956d8"/><stop offset="0.6805" stop-color="#284dcb"/><stop offset="0.9049" stop-color="#284dcb"/><stop offset="0.9976" stop-color="#284dcb"/></linearGradient><linearGradient id="r103"><stop offset="0.0024" stop-color="#0860e0"/><stop offset="0.0951" stop-color="#0a5fdf"/><stop offset="0.1537" stop-color="#0c5dde"/><stop offset="0.1732" stop-color="#1c55d6"/><stop offset="0.1829" stop-color="#1957d8"/><stop offset="0.1976" stop-color="#095fdf"/><stop offset="0.2220" stop-color="#0462e1"/><stop offset="0.3488" stop-color="#0860df"/><stop offset="0.5537" stop-color="#1f53d5"/><stop offset="0.6902" stop-color="#294cc9"/><stop offset="0.8951" stop-color="#294cc9"/><stop offset="0.9634" stop-color="#274ecc"/><stop offset="0.9976" stop-color="#294cc9"/></linearGradient><linearGradient id="r104"><stop offset="0.0024" stop-color="#0860e0"/><stop offset="0.0951" stop-color="#0a5fdf"/><stop offset="0.1488" stop-color="#0b5edf"/><stop offset="0.1732" stop-color="#1c55d6"/><stop offset="0.1829" stop-color="#1956d8"/><stop offset="0.1976" stop-color="#0a5fdf"/><stop offset="0.2220" stop-color="#0562e0"/><stop offset="0.3390" stop-color="#0860df"/><stop offset="0.5390" stop-color="#1e54d5"/><stop offset="0.6902" stop-color="#2b4bc8"/><stop offset="0.8902" stop-color="#2a4bc8"/><stop offset="0.9634" stop-color="#284dcb"/><stop offset="0.9976" stop-color="#2a4bc8"/></linearGradient><linearGradient id="r105"><stop offset="0.0024" stop-color="#0860df"/><stop offset="0.0951" stop-color="#0a5fdf"/><stop offset="0.1293" stop-color="#0c5ede"/><stop offset="0.1537" stop-color="#0d5dde"/><stop offset="0.1732" stop-color="#1c55d6"/><stop offset="0.1780" stop-color="#1d54d6"/><stop offset="0.2024" stop-color="#0760e0"/><stop offset="0.3049" stop-color="#0761e0"/><stop offset="0.3976" stop-color="#0f5cdd"/><stop offset="0.5927" stop-color="#2450cf"/><stop offset="0.7000" stop-color="#2c4ac6"/><stop offset="0.8756" stop-color="#2c4ac6"/><stop offset="0.9585" stop-color="#294cca"/><stop offset="0.9976" stop-color="#2c4ac7"/></linearGradient><linearGradient id="r106"><stop offset="0.0024" stop-color="#0860df"/><stop offset="0.0951" stop-color="#0a5fdf"/><stop offset="0.1293" stop-color="#0c5ede"/><stop offset="0.1537" stop-color="#0d5dde"/><stop offset="0.1732" stop-color="#1d54d6"/><stop offset="0.1829" stop-color="#1a56d7"/><stop offset="0.1976" stop-color="#0a5fdf"/><stop offset="0.2220" stop-color="#0561e0"/><stop offset="0.3390" stop-color="#095fdf"/><stop offset="0.4561" stop-color="#1758d9"/><stop offset="0.6512" stop-color="#2b4bc8"/><stop offset="0.7488" stop-color="#2d49c4"/><stop offset="0.8707" stop-color="#2c4ac5"/><stop offset="0.9585" stop-color="#2a4cc9"/><stop offset="0.9976" stop-color="#2c4ac5"/></linearGradient><linearGradient id="r107"><stop offset="0.0024" stop-color="#0860df"/><stop offset="0.0951" stop-color="#0a5edf"/><stop offset="0.1244" stop-color="#0d5dde"/><stop offset="0.1537" stop-color="#0d5dde"/><stop offset="0.1732" stop-color="#1d54d5"/><stop offset="0.1780" stop-color="#1e54d5"/><stop offset="0.2024" stop-color="#0860df"/><stop offset="0.3146" stop-color="#0860df"/><stop offset="0.3878" stop-color="#105bdd"/><stop offset="0.5780" stop-color="#254fce"/><stop offset="0.6902" stop-color="#2d49c4"/><stop offset="0.8512" stop-color="#2e48c2"/><stop offset="0.9390" stop-color="#2a4bc8"/><stop offset="0.9976" stop-color="#2d49c4"/></linearGradient><linearGradient id="r108"><stop offset="0.0024" stop-color="#0960df"/><stop offset="0.0951" stop-color="#0b5edf"/><stop offset="0.1488" stop-color="#0c5dde"/><stop offset="0.1634" stop-color="#1658d9"/><stop offset="0.1732" stop-color="#1e54d5"/><stop offset="0.1829" stop-color="#1b55d7"/><stop offset="0.1976" stop-color="#0b5edf"/><stop offset="0.2220" stop-color="#0661e0"/><stop offset="0.3341" stop-color="#0a5fdf"/><stop offset="0.4024" stop-color="#1459db"/><stop offset="0.5585" stop-color="#2450cf"/><stop offset="0.6854" stop-color="#2e48c2"/><stop offset="0.8561" stop-color="#2e48c2"/><stop offset="0.9341" stop-color="#2b4bc7"/><stop offset="0.9976" stop-color="#2e48c3"/></linearGradient><linearGradient id="r109"><stop offset="0.0024" stop-color="#095fdf"/><stop offset="0.0951" stop-color="#0b5edf"/><stop offset="0.1537" stop-color="#0e5cde"/><stop offset="0.1732" stop-color="#1e54d5"/><stop offset="0.1780" stop-color="#1f53d4"/><stop offset="0.1976" stop-color="#0c5ede"/><stop offset="0.2171" stop-color="#0760e0"/><stop offset="0.3293" stop-color="#0a5edf"/><stop offset="0.4024" stop-color="#1459da"/><stop offset="0.5488" stop-color="#2450cf"/><stop offset="0.6756" stop-color="#2e48c1"/><stop offset="0.8512" stop-color="#2e48c1"/><stop offset="0.9293" stop-color="#2c4ac6"/><stop offset="0.9976" stop-color="#2e48c1"/></linearGradient><linearGradient id="r110"><stop offset="0.0024" stop-color="#095fdf"/><stop offset="0.0951" stop-color="#0b5edf"/><stop offset="0.1293" stop-color="#0d5dde"/><stop offset="0.1537" stop-color="#0e5cde"/><stop offset="0.1732" stop-color="#1f53d4"/><stop offset="0.1829" stop-color="#1c55d6"/><stop offset="0.1976" stop-color="#0c5dde"/><stop offset="0.2268" stop-color="#0860e0"/><stop offset="0.3341" stop-color="#0b5ede"/><stop offset="0.4024" stop-color="#1559da"/><stop offset="0.5390" stop-color="#2450cf"/><stop offset="0.6805" stop-color="#2f47c0"/><stop offset="0.8561" stop-color="#2e48c1"/><stop offset="0.9341" stop-color="#2c4ac5"/><stop offset="0.9976" stop-color="#2f47c0"/></linearGradient><linearGradient id="r111"><stop offset="0.0024" stop-color="#095fdf"/><stop offset="0.0951" stop-color="#0b5edf"/><stop offset="0.1341" stop-color="#0d5dde"/><stop offset="0.1537" stop-color="#0f5cde"/><stop offset="0.1732" stop-color="#1f53d4"/><stop offset="0.1829" stop-color="#1d54d6"/><stop offset="0.1976" stop-color="#0d5dde"/><stop offset="0.2220" stop-color="#0860df"/><stop offset="0.3390" stop-color="#0c5dde"/><stop offset="0.4561" stop-color="#1c55d6"/><stop offset="0.6366" stop-color="#2d49c3"/><stop offset="0.7049" stop-color="#2f46bf"/><stop offset="0.8512" stop-color="#2f47c0"/><stop offset="0.9293" stop-color="#2d49c4"/><stop offset="0.9976" stop-color="#2f46bf"/></linearGradient><linearGradient id="r112"><stop offset="0.0024" stop-color="#095fdf"/><stop offset="0.0902" stop-color="#0b5edf"/><stop offset="0.1293" stop-color="#0d5dde"/><stop offset="0.1537" stop-color="#0f5cdd"/><stop offset="0.1732" stop-color="#2053d4"/><stop offset="0.1829" stop-color="#1d54d5"/><stop offset="0.1976" stop-color="#0d5dde"/><stop offset="0.2268" stop-color="#095fdf"/><stop offset="0.3488" stop-color="#0d5dde"/><stop offset="0.4415" stop-color="#1b55d7"/><stop offset="0.6512" stop-color="#2e48c1"/><stop offset="0.8366" stop-color="#3046be"/><stop offset="0.9293" stop-color="#2d49c4"/><stop offset="0.9976" stop-color="#3045bd"/></linearGradient><linearGradient id="r113"><stop offset="0.0024" stop-color="#0a5fdf"/><stop offset="0.0951" stop-color="#0c5ede"/><stop offset="0.1537" stop-color="#0f5cdd"/><stop offset="0.1732" stop-color="#2052d3"/><stop offset="0.1829" stop-color="#1e54d5"/><stop offset="0.1976" stop-color="#0e5cde"/><stop offset="0.2171" stop-color="#095fdf"/><stop offset="0.3390" stop-color="#0d5dde"/><stop offset="0.4561" stop-color="#1d54d5"/><stop offset="0.6366" stop-color="#2e48c3"/><stop offset="0.7098" stop-color="#3046be"/><stop offset="0.8512" stop-color="#2f47bf"/><stop offset="0.9341" stop-color="#2e48c3"/><stop offset="0.9976" stop-color="#3145bc"/></linearGradient><linearGradient id="r114"><stop offset="0.0024" stop-color="#0a5fdf"/><stop offset="0.0951" stop-color="#0c5ede"/><stop offset="0.1488" stop-color="#0e5cde"/><stop offset="0.1585" stop-color="#1359db"/><stop offset="0.1732" stop-color="#2152d3"/><stop offset="0.1829" stop-color="#1f53d4"/><stop offset="0.1976" stop-color="#0e5cde"/><stop offset="0.2268" stop-color="#0a5fdf"/><stop offset="0.3439" stop-color="#0e5cde"/><stop offset="0.4610" stop-color="#1e54d5"/><stop offset="0.6415" stop-color="#2e48c2"/><stop offset="0.7098" stop-color="#3046be"/><stop offset="0.8561" stop-color="#2f47bf"/><stop offset="0.9341" stop-color="#2e48c2"/><stop offset="0.9976" stop-color="#3144bb"/></linearGradient><linearGradient id="r115"><stop offset="0.0024" stop-color="#0a5fdf"/><stop offset="0.0951" stop-color="#0c5dde"/><stop offset="0.1341" stop-color="#0e5dde"/><stop offset="0.1537" stop-color="#105bdd"/><stop offset="0.1732" stop-color="#2152d3"/><stop offset="0.1829" stop-color="#1f53d4"/><stop offset="0.2024" stop-color="#0c5dde"/><stop offset="0.3195" stop-color="#0d5dde"/><stop offset="0.3976" stop-color="#1757d9"/><stop offset="0.5585" stop-color="#284dcb"/><stop offset="0.6902" stop-color="#3046be"/><stop offset="0.8610" stop-color="#2f46bf"/><stop offset="0.9585" stop-color="#2f46bf"/><stop offset="0.9976" stop-color="#3243b9"/></linearGradient><linearGradient id="r116"><stop offset="0.0024" stop-color="#0a5fdf"/><stop offset="0.0951" stop-color="#0c5dde"/><stop offset="0.1244" stop-color="#0f5cde"/><stop offset="0.1537" stop-color="#105bdd"/><stop offset="0.1732" stop-color="#2152d2"/><stop offset="0.1829" stop-color="#2053d4"/><stop offset="0.1976" stop-color="#105bdd"/><stop offset="0.2220" stop-color="#0b5edf"/><stop offset="0.3390" stop-color="#0f5cdd"/><stop offset="0.4561" stop-color="#1f53d4"/><stop offset="0.6415" stop-color="#2e48c1"/><stop offset="0.7585" stop-color="#3045bd"/><stop offset="0.8561" stop-color="#3046be"/><stop offset="0.9390" stop-color="#2f47c0"/><stop offset="0.9976" stop-color="#3243b8"/></linearGradient><linearGradient id="r117"><stop offset="0.0024" stop-color="#0a5edf"/><stop offset="0.0902" stop-color="#0c5ede"/><stop offset="0.1293" stop-color="#0f5cde"/><stop offset="0.1488" stop-color="#0f5cde"/><stop offset="0.1732" stop-color="#2251d2"/><stop offset="0.1829" stop-color="#2052d3"/><stop offset="0.1976" stop-color="#105bdd"/><stop offset="0.2171" stop-color="#0c5ede"/><stop offset="0.3293" stop-color="#0f5cdd"/><stop offset="0.4610" stop-color="#2053d4"/><stop offset="0.6561" stop-color="#2f46bf"/><stop offset="0.8512" stop-color="#3046bd"/><stop offset="0.9293" stop-color="#2f46bf"/><stop offset="0.9976" stop-color="#3342b7"/></linearGradient><linearGradient id="r118"><stop offset="0.0024" stop-color="#0b5edf"/><stop offset="0.0951" stop-color="#0d5dde"/><stop offset="0.1488" stop-color="#0f5cdd"/><stop offset="0.1732" stop-color="#2251d1"/><stop offset="0.1829" stop-color="#2152d3"/><stop offset="0.2024" stop-color="#0e5cde"/><stop offset="0.2902" stop-color="#0d5dde"/><stop offset="0.3927" stop-color="#1857d8"/><stop offset="0.4951" stop-color="#2351d0"/><stop offset="0.6512" stop-color="#2f47c0"/><stop offset="0.7098" stop-color="#3045bd"/><stop offset="0.8561" stop-color="#3045bd"/><stop offset="0.9488" stop-color="#3045bd"/><stop offset="0.9976" stop-color="#3341b5"/></linearGradient><linearGradient id="r119"><stop offset="0.0024" stop-color="#0b5edf"/><stop offset="0.0951" stop-color="#0d5dde"/><stop offset="0.1341" stop-color="#0f5cde"/><stop offset="0.1488" stop-color="#0f5cdd"/><stop offset="0.1634" stop-color="#1b56d7"/><stop offset="0.1732" stop-color="#2251d1"/><stop offset="0.1829" stop-color="#2152d2"/><stop offset="0.2024" stop-color="#0f5cde"/><stop offset="0.3000" stop-color="#0f5cde"/><stop offset="0.3927" stop-color="#1956d8"/><stop offset="0.5732" stop-color="#2b4bc8"/><stop offset="0.6902" stop-color="#3045bd"/><stop offset="0.8659" stop-color="#3046bd"/><stop offset="0.9488" stop-color="#3145bc"/><stop offset="0.9976" stop-color="#3341b4"/></linearGradient><linearGradient id="r120"><stop offset="0.0024" stop-color="#0b5edf"/><stop offset="0.0951" stop-color="#0d5dde"/><stop offset="0.1341" stop-color="#0f5cdd"/><stop offset="0.1537" stop-color="#125adc"/><stop offset="0.1732" stop-color="#2351d0"/><stop offset="0.1829" stop-color="#2251d2"/><stop offset="0.2024" stop-color="#0f5cdd"/><stop offset="0.2854" stop-color="#0e5cde"/><stop offset="0.3878" stop-color="#1957d8"/><stop offset="0.5683" stop-color="#2a4bc8"/><stop offset="0.6951" stop-color="#3145bc"/><stop offset="0.8805" stop-color="#3045bd"/><stop offset="0.9585" stop-color="#3243ba"/><stop offset="0.9976" stop-color="#3341b4"/></linearGradient><linearGradient id="r121"><stop offset="0.0024" stop-color="#0b5edf"/><stop offset="0.0951" stop-color="#0d5dde"/><stop offset="0.1293" stop-color="#105bdd"/><stop offset="0.1488" stop-color="#105bdd"/><stop offset="0.1732" stop-color="#2350d0"/><stop offset="0.1829" stop-color="#2251d1"/><stop offset="0.2024" stop-color="#105bdd"/><stop offset="0.3049" stop-color="#105bdd"/><stop offset="0.4707" stop-color="#2251d2"/><stop offset="0.6415" stop-color="#2f47c0"/><stop offset="0.7098" stop-color="#3145bc"/><stop offset="0.8659" stop-color="#3145bc"/><stop offset="0.9390" stop-color="#3144bb"/><stop offset="0.9976" stop-color="#3340b4"/></linearGradient><linearGradient id="r122"><stop offset="0.0024" stop-color="#0b5ede"/><stop offset="0.0902" stop-color="#0d5dde"/><stop offset="0.1244" stop-color="#105bdd"/><stop offset="0.1537" stop-color="#135adb"/><stop offset="0.1732" stop-color="#2450d0"/><stop offset="0.1829" stop-color="#2251d1"/><stop offset="0.2024" stop-color="#115bdd"/><stop offset="0.3049" stop-color="#115bdc"/><stop offset="0.4122" stop-color="#1e54d5"/><stop offset="0.6171" stop-color="#2e48c2"/><stop offset="0.6951" stop-color="#3145bc"/><stop offset="0.9390" stop-color="#3244ba"/><stop offset="0.9976" stop-color="#3340b4"/></linearGradient><linearGradient id="r123"><stop offset="0.0024" stop-color="#0c5ede"/><stop offset="0.0951" stop-color="#0e5cde"/><stop offset="0.1341" stop-color="#105bdd"/><stop offset="0.1537" stop-color="#135adb"/><stop offset="0.1732" stop-color="#2450cf"/><stop offset="0.1829" stop-color="#2351d0"/><stop offset="0.2024" stop-color="#115bdc"/><stop offset="0.2951" stop-color="#115bdc"/><stop offset="0.4073" stop-color="#1e54d5"/><stop offset="0.6366" stop-color="#2f47c0"/><stop offset="0.7195" stop-color="#3144bb"/><stop offset="0.9293" stop-color="#3244ba"/><stop offset="0.9976" stop-color="#3340b3"/></linearGradient><linearGradient id="r124"><stop offset="0.0024" stop-color="#0c5ede"/><stop offset="0.0951" stop-color="#0e5cde"/><stop offset="0.1293" stop-color="#115bdc"/><stop offset="0.1488" stop-color="#115bdc"/><stop offset="0.1683" stop-color="#2152d2"/><stop offset="0.1780" stop-color="#254fce"/><stop offset="0.1878" stop-color="#2053d4"/><stop offset="0.2024" stop-color="#125adc"/><stop offset="0.3000" stop-color="#125adb"/><stop offset="0.4561" stop-color="#2251d1"/><stop offset="0.6366" stop-color="#2f46bf"/><stop offset="0.7146" stop-color="#3144bb"/><stop offset="0.9293" stop-color="#3243b9"/><stop offset="0.9927" stop-color="#3340b3"/><stop offset="0.9976" stop-color="#3340b3"/></linearGradient><linearGradient id="r125"><stop offset="0.0024" stop-color="#0c5ede"/><stop offset="0.0951" stop-color="#0e5cde"/><stop offset="0.1293" stop-color="#115bdc"/><stop offset="0.1537" stop-color="#1459db"/><stop offset="0.1732" stop-color="#254fce"/><stop offset="0.1829" stop-color="#2450cf"/><stop offset="0.2024" stop-color="#135adb"/><stop offset="0.3000" stop-color="#1359db"/><stop offset="0.4512" stop-color="#2251d1"/><stop offset="0.6317" stop-color="#2f47c0"/><stop offset="0.6951" stop-color="#3144bb"/><stop offset="0.9341" stop-color="#3242b8"/><stop offset="0.9878" stop-color="#3440b3"/><stop offset="0.9976" stop-color="#3440b3"/></linearGradient><linearGradient id="r126"><stop offset="0.0024" stop-color="#0c5dde"/><stop offset="0.0951" stop-color="#0e5cde"/><stop offset="0.1244" stop-color="#125adc"/><stop offset="0.1488" stop-color="#125adc"/><stop offset="0.1732" stop-color="#254fce"/><stop offset="0.1829" stop-color="#2450cf"/><stop offset="0.2024" stop-color="#1459db"/><stop offset="0.2902" stop-color="#1359db"/><stop offset="0.4561" stop-color="#2351d0"/><stop offset="0.6512" stop-color="#3045bd"/><stop offset="0.8561" stop-color="#3243b9"/><stop offset="0.9341" stop-color="#3342b7"/><stop offset="0.9829" stop-color="#3440b3"/><stop offset="0.9976" stop-color="#3440b3"/></linearGradient><linearGradient id="r127"><stop offset="0.0024" stop-color="#0c5dde"/><stop offset="0.0951" stop-color="#0f5cde"/><stop offset="0.1341" stop-color="#125adc"/><stop offset="0.1537" stop-color="#1559da"/><stop offset="0.1732" stop-color="#254fce"/><stop offset="0.1829" stop-color="#254fce"/><stop offset="0.2024" stop-color="#1459da"/><stop offset="0.2902" stop-color="#1459db"/><stop offset="0.4659" stop-color="#2450cf"/><stop offset="0.6659" stop-color="#3144bb"/><stop offset="0.9244" stop-color="#3342b7"/><stop offset="0.9829" stop-color="#3440b3"/><stop offset="0.9976" stop-color="#3440b3"/></linearGradient><linearGradient id="r128"><stop offset="0.0024" stop-color="#0d5dde"/><stop offset="0.0951" stop-color="#0f5cdd"/><stop offset="0.1390" stop-color="#125adc"/><stop offset="0.1537" stop-color="#1558da"/><stop offset="0.1732" stop-color="#264fcd"/><stop offset="0.1829" stop-color="#254fce"/><stop offset="0.2024" stop-color="#1559da"/><stop offset="0.2951" stop-color="#1558da"/><stop offset="0.4610" stop-color="#2450cf"/><stop offset="0.6463" stop-color="#3045bd"/><stop offset="0.7634" stop-color="#3243b9"/><stop offset="0.9146" stop-color="#3342b7"/><stop offset="0.9829" stop-color="#3440b3"/><stop offset="0.9976" stop-color="#3440b3"/></linearGradient><linearGradient id="r129"><stop offset="0.0024" stop-color="#0d5dde"/><stop offset="0.0951" stop-color="#0f5cdd"/><stop offset="0.1244" stop-color="#135adb"/><stop offset="0.1488" stop-color="#1359db"/><stop offset="0.1732" stop-color="#264ecd"/><stop offset="0.1829" stop-color="#254fce"/><stop offset="0.2024" stop-color="#1658da"/><stop offset="0.2854" stop-color="#1558da"/><stop offset="0.4707" stop-color="#254fce"/><stop offset="0.6415" stop-color="#3045bd"/><stop offset="0.7829" stop-color="#3243b8"/><stop offset="0.9195" stop-color="#3341b6"/><stop offset="0.9780" stop-color="#3440b2"/><stop offset="0.9976" stop-color="#3440b2"/></linearGradient><linearGradient id="r130"><stop offset="0.0024" stop-color="#0d5dde"/><stop offset="0.0951" stop-color="#0f5cdd"/><stop offset="0.1341" stop-color="#135adb"/><stop offset="0.1537" stop-color="#1658d9"/><stop offset="0.1732" stop-color="#264ecd"/><stop offset="0.1829" stop-color="#264ecd"/><stop offset="0.2024" stop-color="#1758d9"/><stop offset="0.2951" stop-color="#1758d9"/><stop offset="0.4707" stop-color="#254fce"/><stop offset="0.6561" stop-color="#3144bc"/><stop offset="0.8268" stop-color="#3342b7"/><stop offset="0.9195" stop-color="#3341b5"/><stop offset="0.9780" stop-color="#3440b2"/><stop offset="0.9976" stop-color="#3440b2"/></linearGradient><linearGradient id="r131"><stop offset="0.0024" stop-color="#0d5dde"/><stop offset="0.0902" stop-color="#0f5cde"/><stop offset="0.1293" stop-color="#135adb"/><stop offset="0.1537" stop-color="#1658d9"/><stop offset="0.1732" stop-color="#274ecc"/><stop offset="0.1829" stop-color="#264ecd"/><stop offset="0.2024" stop-color="#1757d9"/><stop offset="0.3000" stop-color="#1857d8"/><stop offset="0.5293" stop-color="#2a4bc8"/><stop offset="0.6951" stop-color="#3243b9"/><stop offset="0.9098" stop-color="#3341b5"/><stop offset="0.9829" stop-color="#3440b2"/><stop offset="0.9976" stop-color="#3440b2"/></linearGradient><linearGradient id="r132"><stop offset="0.0024" stop-color="#0d5dde"/><stop offset="0.0951" stop-color="#105bdd"/><stop offset="0.1293" stop-color="#1459db"/><stop offset="0.1488" stop-color="#1559da"/><stop offset="0.1634" stop-color="#2053d4"/><stop offset="0.1780" stop-color="#284dca"/><stop offset="0.1927" stop-color="#1f53d4"/><stop offset="0.2073" stop-color="#1758d9"/><stop offset="0.3049" stop-color="#1956d7"/><stop offset="0.5146" stop-color="#2a4cc9"/><stop offset="0.6902" stop-color="#3243b9"/><stop offset="0.9146" stop-color="#3340b4"/><stop offset="0.9976" stop-color="#3440b2"/></linearGradient><linearGradient id="r133"><stop offset="0.0024" stop-color="#0e5dde"/><stop offset="0.0951" stop-color="#105bdd"/><stop offset="0.1341" stop-color="#1459db"/><stop offset="0.1537" stop-color="#1757d9"/><stop offset="0.1732" stop-color="#274dcb"/><stop offset="0.1829" stop-color="#274ecc"/><stop offset="0.2024" stop-color="#1957d8"/><stop offset="0.2951" stop-color="#1956d7"/><stop offset="0.5341" stop-color="#2c4ac7"/><stop offset="0.6902" stop-color="#3243b9"/><stop offset="0.9049" stop-color="#3341b4"/><stop offset="0.9976" stop-color="#343fb2"/></linearGradient><linearGradient id="r134"><stop offset="0.0024" stop-color="#0e5cde"/><stop offset="0.0951" stop-color="#105bdd"/><stop offset="0.1341" stop-color="#1459db"/><stop offset="0.1537" stop-color="#1857d9"/><stop offset="0.1732" stop-color="#284dcb"/><stop offset="0.1829" stop-color="#284dcb"/><stop offset="0.2024" stop-color="#1956d7"/><stop offset="0.2951" stop-color="#1a56d7"/><stop offset="0.5390" stop-color="#2c4ac6"/><stop offset="0.7000" stop-color="#3243b8"/><stop offset="0.9098" stop-color="#3440b3"/><stop offset="0.9976" stop-color="#343fb2"/></linearGradient><linearGradient id="r135"><stop offset="0.0024" stop-color="#0e5cde"/><stop offset="0.0902" stop-color="#105bdd"/><stop offset="0.1293" stop-color="#1559da"/><stop offset="0.1537" stop-color="#1857d8"/><stop offset="0.1732" stop-color="#284dcb"/><stop offset="0.1829" stop-color="#284dcb"/><stop offset="0.2024" stop-color="#1a56d7"/><stop offset="0.3000" stop-color="#1b55d6"/><stop offset="0.5341" stop-color="#2c4ac6"/><stop offset="0.6951" stop-color="#3243b8"/><stop offset="0.9000" stop-color="#3440b3"/><stop offset="0.9976" stop-color="#343fb2"/></linearGradient><linearGradient id="r136"><stop offset="0.0024" stop-color="#0e5cde"/><stop offset="0.0902" stop-color="#105bdd"/><stop offset="0.1293" stop-color="#1559da"/><stop offset="0.1537" stop-color="#1857d8"/><stop offset="0.1732" stop-color="#284dca"/><stop offset="0.1829" stop-color="#284dca"/><stop offset="0.2024" stop-color="#1b55d7"/><stop offset="0.3000" stop-color="#1c55d6"/><stop offset="0.5293" stop-color="#2c4ac6"/><stop offset="0.6902" stop-color="#3242b8"/><stop offset="0.9049" stop-color="#343fb2"/><stop offset="0.9976" stop-color="#343fb1"/></linearGradient><linearGradient id="r137"><stop offset="0.0024" stop-color="#0f5cde"/><stop offset="0.0951" stop-color="#115bdc"/><stop offset="0.1341" stop-color="#1558da"/><stop offset="0.1537" stop-color="#1956d8"/><stop offset="0.1732" stop-color="#294cca"/><stop offset="0.1829" stop-color="#294cca"/><stop offset="0.2024" stop-color="#1c55d6"/><stop offset="0.2902" stop-color="#1c55d6"/><stop offset="0.5390" stop-color="#2d49c5"/><stop offset="0.7000" stop-color="#3342b7"/><stop offset="0.9976" stop-color="#343fb1"/></linearGradient><linearGradient id="r138"><stop offset="0.0024" stop-color="#0f5cde"/><stop offset="0.0902" stop-color="#115bdd"/><stop offset="0.1390" stop-color="#1658da"/><stop offset="0.1537" stop-color="#1956d8"/><stop offset="0.1732" stop-color="#294cc9"/><stop offset="0.1829" stop-color="#294cc9"/><stop offset="0.2024" stop-color="#1c55d6"/><stop offset="0.3049" stop-color="#1e54d5"/><stop offset="0.5537" stop-color="#2d48c3"/><stop offset="0.7000" stop-color="#3342b7"/><stop offset="0.9927" stop-color="#343fb1"/><stop offset="0.9976" stop-color="#343fb1"/></linearGradient><linearGradient id="r139"><stop offset="0.0024" stop-color="#0f5cdd"/><stop offset="0.0902" stop-color="#115bdc"/><stop offset="0.1390" stop-color="#1658d9"/><stop offset="0.1537" stop-color="#1a56d7"/><stop offset="0.1732" stop-color="#2a4cc9"/><stop offset="0.1829" stop-color="#2a4cc9"/><stop offset="0.2024" stop-color="#1d54d5"/><stop offset="0.2951" stop-color="#1e54d5"/><stop offset="0.5390" stop-color="#2d49c4"/><stop offset="0.6951" stop-color="#3342b7"/><stop offset="0.9780" stop-color="#343fb1"/><stop offset="0.9976" stop-color="#343fb1"/></linearGradient><linearGradient id="r140"><stop offset="0.0024" stop-color="#0f5cdd"/><stop offset="0.0902" stop-color="#115bdc"/><stop offset="0.1293" stop-color="#1658d9"/><stop offset="0.1537" stop-color="#1a56d7"/><stop offset="0.1732" stop-color="#2a4cc9"/><stop offset="0.1829" stop-color="#2a4bc8"/><stop offset="0.2024" stop-color="#1e54d5"/><stop offset="0.2951" stop-color="#1f53d4"/><stop offset="0.5488" stop-color="#2e48c3"/><stop offset="0.7049" stop-color="#3342b6"/><stop offset="0.9341" stop-color="#343fb1"/><stop offset="0.9976" stop-color="#343fb1"/></linearGradient><linearGradient id="r141"><stop offset="0.0024" stop-color="#0f5cdd"/><stop offset="0.0902" stop-color="#115bdc"/><stop offset="0.1341" stop-color="#1758d9"/><stop offset="0.1537" stop-color="#1a56d7"/><stop offset="0.1732" stop-color="#2a4bc8"/><stop offset="0.1829" stop-color="#2b4bc8"/><stop offset="0.2024" stop-color="#1f53d5"/><stop offset="0.2902" stop-color="#1f53d4"/><stop offset="0.5439" stop-color="#2d48c3"/><stop offset="0.7000" stop-color="#3342b6"/><stop offset="0.9293" stop-color="#343fb1"/><stop offset="0.9976" stop-color="#343fb1"/></linearGradient><linearGradient id="r142"><stop offset="0.0024" stop-color="#105bdd"/><stop offset="0.0902" stop-color="#115adc"/><stop offset="0.1293" stop-color="#1758d9"/><stop offset="0.1537" stop-color="#1b55d7"/><stop offset="0.1780" stop-color="#2c4ac6"/><stop offset="0.2073" stop-color="#1e54d5"/><stop offset="0.3195" stop-color="#2251d2"/><stop offset="0.5390" stop-color="#2d48c3"/><stop offset="0.7000" stop-color="#3341b6"/><stop offset="0.9634" stop-color="#343fb0"/><stop offset="0.9976" stop-color="#343fb0"/></linearGradient><linearGradient id="r143"><stop offset="0.0024" stop-color="#105bdd"/><stop offset="0.0902" stop-color="#125adc"/><stop offset="0.1537" stop-color="#1b55d7"/><stop offset="0.1732" stop-color="#2b4bc8"/><stop offset="0.1829" stop-color="#2b4bc7"/><stop offset="0.2024" stop-color="#1f53d4"/><stop offset="0.3049" stop-color="#2152d2"/><stop offset="0.5585" stop-color="#2f47c1"/><stop offset="0.7049" stop-color="#3341b5"/><stop offset="0.9732" stop-color="#343fb0"/><stop offset="0.9976" stop-color="#343fb0"/></linearGradient><linearGradient id="r144"><stop offset="0.0024" stop-color="#105bdd"/><stop offset="0.0902" stop-color="#125adc"/><stop offset="0.1537" stop-color="#1b55d6"/><stop offset="0.1732" stop-color="#2b4bc7"/><stop offset="0.1878" stop-color="#284dca"/><stop offset="0.2024" stop-color="#2053d4"/><stop offset="0.3244" stop-color="#2351d1"/><stop offset="0.5634" stop-color="#2f47c0"/><stop offset="0.7049" stop-color="#3341b5"/><stop offset="0.9537" stop-color="#343fb0"/><stop offset="0.9976" stop-color="#343fb0"/></linearGradient><linearGradient id="r145"><stop offset="0.0024" stop-color="#105bdd"/><stop offset="0.0902" stop-color="#125adc"/><stop offset="0.1390" stop-color="#1857d8"/><stop offset="0.1537" stop-color="#1c55d6"/><stop offset="0.1732" stop-color="#2b4bc7"/><stop offset="0.1829" stop-color="#2c4ac7"/><stop offset="0.2024" stop-color="#2053d3"/><stop offset="0.3000" stop-color="#2251d2"/><stop offset="0.5488" stop-color="#2e47c1"/><stop offset="0.7049" stop-color="#3341b5"/><stop offset="0.9390" stop-color="#343fb0"/><stop offset="0.9976" stop-color="#343fb0"/></linearGradient><linearGradient id="r146"><stop offset="0.0024" stop-color="#105bdd"/><stop offset="0.0902" stop-color="#125adc"/><stop offset="0.1537" stop-color="#1c55d6"/><stop offset="0.1732" stop-color="#2b4bc7"/><stop offset="0.1829" stop-color="#2c4ac6"/><stop offset="0.2024" stop-color="#2052d3"/><stop offset="0.3293" stop-color="#2450d0"/><stop offset="0.5780" stop-color="#3046be"/><stop offset="0.7146" stop-color="#3341b4"/><stop offset="0.9098" stop-color="#343eb0"/><stop offset="0.9976" stop-color="#343eb0"/></linearGradient><linearGradient id="r147"><stop offset="0.0024" stop-color="#105bdd"/><stop offset="0.0902" stop-color="#125adc"/><stop offset="0.1341" stop-color="#1857d8"/><stop offset="0.1537" stop-color="#1c55d6"/><stop offset="0.1732" stop-color="#2b4ac7"/><stop offset="0.1829" stop-color="#2c4ac6"/><stop offset="0.2024" stop-color="#2152d3"/><stop offset="0.3195" stop-color="#2450d0"/><stop offset="0.5732" stop-color="#3046be"/><stop offset="0.7098" stop-color="#3341b4"/><stop offset="0.8951" stop-color="#343eb0"/><stop offset="0.9976" stop-color="#343eb0"/></linearGradient><linearGradient id="r148"><stop offset="0.0024" stop-color="#105bdd"/><stop offset="0.0951" stop-color="#1359db"/><stop offset="0.1488" stop-color="#1a56d7"/><stop offset="0.1634" stop-color="#2450cf"/><stop offset="0.1780" stop-color="#2d49c4"/><stop offset="0.2073" stop-color="#2052d3"/><stop offset="0.3683" stop-color="#264ecd"/><stop offset="0.6610" stop-color="#3342b6"/><stop offset="0.8854" stop-color="#343eaf"/><stop offset="0.9976" stop-color="#343eaf"/></linearGradient><linearGradient id="r149"><stop offset="0.0024" stop-color="#115bdd"/><stop offset="0.0902" stop-color="#135adb"/><stop offset="0.1537" stop-color="#1d54d6"/><stop offset="0.1732" stop-color="#2c4ac6"/><stop offset="0.1829" stop-color="#2c4ac5"/><stop offset="0.2024" stop-color="#2152d2"/><stop offset="0.3244" stop-color="#244fcf"/><stop offset="0.5780" stop-color="#3045bd"/><stop offset="0.7000" stop-color="#3340b4"/><stop offset="0.9098" stop-color="#343eaf"/><stop offset="0.9976" stop-color="#343eaf"/></linearGradient><linearGradient id="r150"><stop offset="0.0024" stop-color="#115bdc"/><stop offset="0.0902" stop-color="#135adb"/><stop offset="0.1537" stop-color="#1d54d5"/><stop offset="0.1732" stop-color="#2c4ac6"/><stop offset="0.1829" stop-color="#2c4ac5"/><stop offset="0.2024" stop-color="#2251d2"/><stop offset="0.3585" stop-color="#264ecc"/><stop offset="0.5976" stop-color="#3144bb"/><stop offset="0.7146" stop-color="#3440b3"/><stop offset="0.9195" stop-color="#343eaf"/><stop offset="0.9976" stop-color="#343eaf"/></linearGradient><linearGradient id="r151"><stop offset="0.0024" stop-color="#115bdc"/><stop offset="0.0902" stop-color="#135adb"/><stop offset="0.1537" stop-color="#1d54d5"/><stop offset="0.1732" stop-color="#2c4ac6"/><stop offset="0.1829" stop-color="#2d49c5"/><stop offset="0.2024" stop-color="#2251d1"/><stop offset="0.3293" stop-color="#254fce"/><stop offset="0.6171" stop-color="#3243b9"/><stop offset="0.7390" stop-color="#343fb2"/><stop offset="0.9585" stop-color="#343eaf"/><stop offset="0.9976" stop-color="#353eaf"/></linearGradient><linearGradient id="r152"><stop offset="0.0024" stop-color="#115bdc"/><stop offset="0.0902" stop-color="#135adb"/><stop offset="0.1488" stop-color="#1c55d6"/><stop offset="0.1585" stop-color="#2152d3"/><stop offset="0.1780" stop-color="#2d49c3"/><stop offset="0.1878" stop-color="#2b4bc8"/><stop offset="0.2024" stop-color="#2251d1"/><stop offset="0.3780" stop-color="#284dcb"/><stop offset="0.6756" stop-color="#3341b4"/><stop offset="0.8951" stop-color="#343eaf"/><stop offset="0.9976" stop-color="#353eaf"/></linearGradient><linearGradient id="r153"><stop offset="0.0024" stop-color="#115bdc"/><stop offset="0.0902" stop-color="#135adb"/><stop offset="0.1537" stop-color="#1e54d5"/><stop offset="0.1780" stop-color="#2d48c3"/><stop offset="0.1927" stop-color="#274dcb"/><stop offset="0.2073" stop-color="#2251d2"/><stop offset="0.5049" stop-color="#2e48c2"/><stop offset="0.7049" stop-color="#3440b3"/><stop offset="0.8805" stop-color="#353eaf"/><stop offset="0.9976" stop-color="#353eaf"/></linearGradient><linearGradient id="r154"><stop offset="0.0024" stop-color="#115bdc"/><stop offset="0.0902" stop-color="#1359db"/><stop offset="0.1537" stop-color="#1e54d5"/><stop offset="0.1780" stop-color="#2d48c3"/><stop offset="0.2073" stop-color="#2251d1"/><stop offset="0.4902" stop-color="#2d48c3"/><stop offset="0.7146" stop-color="#3440b2"/><stop offset="0.8902" stop-color="#353eaf"/><stop offset="0.9976" stop-color="#353eae"/></linearGradient><linearGradient id="r155"><stop offset="0.0024" stop-color="#125adc"/><stop offset="0.0902" stop-color="#1359db"/><stop offset="0.1390" stop-color="#1b56d7"/><stop offset="0.1537" stop-color="#1f53d4"/><stop offset="0.1780" stop-color="#2e48c2"/><stop offset="0.2073" stop-color="#2351d1"/><stop offset="0.4854" stop-color="#2d48c3"/><stop offset="0.7146" stop-color="#3440b2"/><stop offset="0.8902" stop-color="#353eaf"/><stop offset="0.9976" stop-color="#353eae"/></linearGradient><linearGradient id="r156"><stop offset="0.0024" stop-color="#125adc"/><stop offset="0.0902" stop-color="#1459db"/><stop offset="0.1537" stop-color="#1f53d4"/><stop offset="0.1780" stop-color="#2e48c2"/><stop offset="0.1927" stop-color="#284dca"/><stop offset="0.2073" stop-color="#2351d0"/><stop offset="0.4512" stop-color="#2c49c5"/><stop offset="0.7146" stop-color="#3440b2"/><stop offset="0.8805" stop-color="#353eaf"/><stop offset="0.9976" stop-color="#353eae"/></linearGradient><linearGradient id="r157"><stop offset="0.0024" stop-color="#125adc"/><stop offset="0.0902" stop-color="#1459db"/><stop offset="0.1537" stop-color="#1f53d4"/><stop offset="0.1780" stop-color="#2e48c2"/><stop offset="0.2073" stop-color="#2350d0"/><stop offset="0.4902" stop-color="#2e48c2"/><stop offset="0.7098" stop-color="#3440b2"/><stop offset="0.9439" stop-color="#353eae"/><stop offset="0.9976" stop-color="#353eae"/></linearGradient><linearGradient id="r158"><stop offset="0.0024" stop-color="#125adc"/><stop offset="0.0902" stop-color="#1459db"/><stop offset="0.1488" stop-color="#1d54d5"/><stop offset="0.1634" stop-color="#264ecd"/><stop offset="0.1780" stop-color="#2e48c2"/><stop offset="0.1878" stop-color="#2c4ac6"/><stop offset="0.2073" stop-color="#2350d0"/><stop offset="0.5000" stop-color="#2e47c1"/><stop offset="0.7098" stop-color="#3440b2"/><stop offset="0.9341" stop-color="#353eae"/><stop offset="0.9976" stop-color="#353dae"/></linearGradient><linearGradient id="r159"><stop offset="0.0024" stop-color="#125adc"/><stop offset="0.0902" stop-color="#1459db"/><stop offset="0.1488" stop-color="#1e54d5"/><stop offset="0.1634" stop-color="#264ecd"/><stop offset="0.1732" stop-color="#2d49c3"/><stop offset="0.1829" stop-color="#2e48c2"/><stop offset="0.2024" stop-color="#244fcf"/><stop offset="0.4854" stop-color="#2e48c2"/><stop offset="0.7049" stop-color="#3440b2"/><stop offset="0.9390" stop-color="#353eae"/><stop offset="0.9976" stop-color="#353dae"/></linearGradient><linearGradient id="r160"><stop offset="0.0024" stop-color="#125adc"/><stop offset="0.0902" stop-color="#1459da"/><stop offset="0.1537" stop-color="#2053d3"/><stop offset="0.1732" stop-color="#2d49c3"/><stop offset="0.1829" stop-color="#2e48c2"/><stop offset="0.2024" stop-color="#254fce"/><stop offset="0.4659" stop-color="#2e48c3"/><stop offset="0.7049" stop-color="#343fb2"/><stop offset="0.9293" stop-color="#353eae"/><stop offset="0.9976" stop-color="#353dae"/></linearGradient><linearGradient id="r161"><stop offset="0.0024" stop-color="#125adb"/><stop offset="0.0951" stop-color="#1558da"/><stop offset="0.1537" stop-color="#2052d3"/><stop offset="0.1732" stop-color="#2d48c3"/><stop offset="0.1829" stop-color="#2e48c1"/><stop offset="0.2024" stop-color="#254fce"/><stop offset="0.4415" stop-color="#2d49c4"/><stop offset="0.7244" stop-color="#343fb1"/><stop offset="0.9976" stop-color="#353dad"/></linearGradient><linearGradient id="r162"><stop offset="0.0024" stop-color="#135adb"/><stop offset="0.0902" stop-color="#1559da"/><stop offset="0.1488" stop-color="#1f53d4"/><stop offset="0.1634" stop-color="#274ecc"/><stop offset="0.1780" stop-color="#2f47c0"/><stop offset="0.2024" stop-color="#254fce"/><stop offset="0.4854" stop-color="#2e47c1"/><stop offset="0.7195" stop-color="#343fb1"/><stop offset="0.9976" stop-color="#353dad"/></linearGradient><linearGradient id="r163"><stop offset="0.0024" stop-color="#135adb"/><stop offset="0.0902" stop-color="#1559da"/><stop offset="0.1537" stop-color="#2152d3"/><stop offset="0.1780" stop-color="#2f47c0"/><stop offset="0.2073" stop-color="#254fce"/><stop offset="0.5098" stop-color="#2f46bf"/><stop offset="0.7146" stop-color="#343fb1"/><stop offset="0.9976" stop-color="#353dad"/></linearGradient><linearGradient id="r164"><stop offset="0.0024" stop-color="#135adb"/><stop offset="0.0902" stop-color="#1559da"/><stop offset="0.1537" stop-color="#2152d3"/><stop offset="0.1780" stop-color="#2f47c0"/><stop offset="0.2073" stop-color="#254fce"/><stop offset="0.5341" stop-color="#3145bd"/><stop offset="0.7146" stop-color="#343fb1"/><stop offset="0.9976" stop-color="#353dad"/></linearGradient><linearGradient id="r165"><stop offset="0.0024" stop-color="#135adb"/><stop offset="0.0902" stop-color="#1559da"/><stop offset="0.1537" stop-color="#2152d2"/><stop offset="0.1732" stop-color="#2e48c2"/><stop offset="0.1829" stop-color="#2f47c0"/><stop offset="0.2024" stop-color="#264ecd"/><stop offset="0.5000" stop-color="#2f46bf"/><stop offset="0.7146" stop-color="#343fb1"/><stop offset="0.9976" stop-color="#353dad"/></linearGradient><linearGradient id="r166"><stop offset="0.0024" stop-color="#135adb"/><stop offset="0.0902" stop-color="#1558da"/><stop offset="0.1537" stop-color="#2152d2"/><stop offset="0.1732" stop-color="#2e48c2"/><stop offset="0.1829" stop-color="#2f47c0"/><stop offset="0.2024" stop-color="#274ecc"/><stop offset="0.4854" stop-color="#2f47c0"/><stop offset="0.7098" stop-color="#343fb1"/><stop offset="0.9634" stop-color="#353dad"/><stop offset="0.9976" stop-color="#353dad"/></linearGradient><linearGradient id="r167"><stop offset="0.0024" stop-color="#1359db"/><stop offset="0.0902" stop-color="#1558da"/><stop offset="0.1537" stop-color="#2251d2"/><stop offset="0.1732" stop-color="#2e48c1"/><stop offset="0.1829" stop-color="#2f47c0"/><stop offset="0.2024" stop-color="#274ecc"/><stop offset="0.4951" stop-color="#3046bf"/><stop offset="0.7098" stop-color="#343fb1"/><stop offset="0.9537" stop-color="#353dad"/><stop offset="0.9976" stop-color="#353dac"/></linearGradient><linearGradient id="r168"><stop offset="0.0024" stop-color="#1459db"/><stop offset="0.0902" stop-color="#1558da"/><stop offset="0.1537" stop-color="#2251d2"/><stop offset="0.1732" stop-color="#2e47c1"/><stop offset="0.1829" stop-color="#2f46bf"/><stop offset="0.2024" stop-color="#274dcc"/><stop offset="0.5049" stop-color="#3046be"/><stop offset="0.7049" stop-color="#343fb1"/><stop offset="0.9585" stop-color="#353dad"/><stop offset="0.9976" stop-color="#353dac"/></linearGradient><linearGradient id="r169"><stop offset="0.0024" stop-color="#1459db"/><stop offset="0.0902" stop-color="#1658da"/><stop offset="0.1537" stop-color="#2251d1"/><stop offset="0.1780" stop-color="#3046be"/><stop offset="0.2073" stop-color="#274ecc"/><stop offset="0.5439" stop-color="#3244bb"/><stop offset="0.7244" stop-color="#343fb0"/><stop offset="0.9976" stop-color="#353dac"/></linearGradient><linearGradient id="r170"><stop offset="0.0024" stop-color="#1459db"/><stop offset="0.0902" stop-color="#1658da"/><stop offset="0.1537" stop-color="#2251d1"/><stop offset="0.1780" stop-color="#3046be"/><stop offset="0.2073" stop-color="#274ecc"/><stop offset="0.3439" stop-color="#2c4ac6"/><stop offset="0.7195" stop-color="#343fb0"/><stop offset="0.9976" stop-color="#353cac"/></linearGradient><linearGradient id="r171"><stop offset="0.0024" stop-color="#1459db"/><stop offset="0.0902" stop-color="#1658d9"/><stop offset="0.1537" stop-color="#2251d1"/><stop offset="0.1780" stop-color="#3046be"/><stop offset="0.1878" stop-color="#2e48c1"/><stop offset="0.2024" stop-color="#284dca"/><stop offset="0.4902" stop-color="#3046be"/><stop offset="0.7195" stop-color="#343fb0"/><stop offset="0.9976" stop-color="#353cac"/></linearGradient><linearGradient id="r172"><stop offset="0.0024" stop-color="#1459db"/><stop offset="0.0902" stop-color="#1658d9"/><stop offset="0.1537" stop-color="#2351d1"/><stop offset="0.1732" stop-color="#2f47c0"/><stop offset="0.1829" stop-color="#3046be"/><stop offset="0.2024" stop-color="#284dca"/><stop offset="0.3488" stop-color="#2c49c5"/><stop offset="0.7146" stop-color="#343fb0"/><stop offset="0.9976" stop-color="#353cac"/></linearGradient><linearGradient id="r173"><stop offset="0.0024" stop-color="#1658da"/><stop offset="0.0902" stop-color="#1857d9"/><stop offset="0.1537" stop-color="#2450cf"/><stop offset="0.1780" stop-color="#3145bc"/><stop offset="0.2073" stop-color="#294cca"/><stop offset="0.3341" stop-color="#2d49c4"/><stop offset="0.6463" stop-color="#343fb2"/><stop offset="0.8951" stop-color="#353cac"/><stop offset="0.9976" stop-color="#353cab"/></linearGradient><linearGradient id="r174"><stop offset="0.0024" stop-color="#1857d8"/><stop offset="0.0902" stop-color="#1a56d7"/><stop offset="0.1537" stop-color="#264fcd"/><stop offset="0.1780" stop-color="#3244ba"/><stop offset="0.1878" stop-color="#3045bd"/><stop offset="0.2024" stop-color="#2c4ac6"/><stop offset="0.4951" stop-color="#3243ba"/><stop offset="0.7098" stop-color="#353dad"/><stop offset="0.9976" stop-color="#353ba8"/></linearGradient><linearGradient id="r175"><stop offset="0.0024" stop-color="#1b55d7"/><stop offset="0.0902" stop-color="#1d54d5"/><stop offset="0.1537" stop-color="#284dcb"/><stop offset="0.1780" stop-color="#3242b8"/><stop offset="0.1878" stop-color="#3144bb"/><stop offset="0.2073" stop-color="#2c49c5"/><stop offset="0.3341" stop-color="#2f46bf"/><stop offset="0.6268" stop-color="#353eaf"/><stop offset="0.7585" stop-color="#353baa"/><stop offset="0.9976" stop-color="#363aa6"/></linearGradient><linearGradient id="r176"><stop offset="0.0024" stop-color="#1e54d5"/><stop offset="0.0951" stop-color="#2052d3"/><stop offset="0.1537" stop-color="#2a4cc9"/><stop offset="0.1780" stop-color="#3341b5"/><stop offset="0.2073" stop-color="#2e48c3"/><stop offset="0.3244" stop-color="#3045bd"/><stop offset="0.5927" stop-color="#353eaf"/><stop offset="0.7341" stop-color="#353ba8"/><stop offset="0.9976" stop-color="#3639a4"/></linearGradient><linearGradient id="r177"><stop offset="0.0024" stop-color="#2052d3"/><stop offset="0.0951" stop-color="#2251d1"/><stop offset="0.1585" stop-color="#2d49c4"/><stop offset="0.1780" stop-color="#3440b3"/><stop offset="0.1927" stop-color="#3244ba"/><stop offset="0.2073" stop-color="#2f47c0"/><stop offset="0.3098" stop-color="#3144bb"/><stop offset="0.5732" stop-color="#353dae"/><stop offset="0.7341" stop-color="#363aa6"/><stop offset="0.9976" stop-color="#3638a2"/></linearGradient><linearGradient id="r178"><stop offset="0.0024" stop-color="#2251d1"/><stop offset="0.0951" stop-color="#2450cf"/><stop offset="0.1585" stop-color="#2e48c2"/><stop offset="0.1780" stop-color="#343fb1"/><stop offset="0.1878" stop-color="#3341b4"/><stop offset="0.2073" stop-color="#3046be"/><stop offset="0.3244" stop-color="#3243b8"/><stop offset="0.5878" stop-color="#353cab"/><stop offset="0.7293" stop-color="#3639a4"/><stop offset="0.9976" stop-color="#3637a0"/></linearGradient><linearGradient id="r179"><stop offset="0.0024" stop-color="#2450cf"/><stop offset="0.0951" stop-color="#264ecd"/><stop offset="0.1537" stop-color="#2e48c2"/><stop offset="0.1780" stop-color="#353eaf"/><stop offset="0.1878" stop-color="#343fb2"/><stop offset="0.2073" stop-color="#3144bc"/><stop offset="0.3098" stop-color="#3342b6"/><stop offset="0.5537" stop-color="#353cab"/><stop offset="0.7293" stop-color="#3638a2"/><stop offset="0.9976" stop-color="#36369e"/></linearGradient><linearGradient id="r180"><stop offset="0.0024" stop-color="#264ecd"/><stop offset="0.0951" stop-color="#284dcb"/><stop offset="0.1537" stop-color="#2f47c0"/><stop offset="0.1780" stop-color="#353dac"/><stop offset="0.2024" stop-color="#3243b8"/><stop offset="0.5341" stop-color="#353baa"/><stop offset="0.7293" stop-color="#3637a0"/><stop offset="0.9976" stop-color="#36359c"/></linearGradient><linearGradient id="r181"><stop offset="0.0024" stop-color="#284dcb"/><stop offset="0.0951" stop-color="#2a4cc9"/><stop offset="0.1585" stop-color="#3144bb"/><stop offset="0.1780" stop-color="#353caa"/><stop offset="0.1878" stop-color="#353dad"/><stop offset="0.2073" stop-color="#3342b7"/><stop offset="0.3098" stop-color="#343fb1"/><stop offset="0.5146" stop-color="#353ba9"/><stop offset="0.7195" stop-color="#36369e"/><stop offset="0.9976" stop-color="#36349a"/></linearGradient><linearGradient id="r182"><stop offset="0.0024" stop-color="#2a4cc9"/><stop offset="0.0951" stop-color="#2c4ac7"/><stop offset="0.1585" stop-color="#3243b9"/><stop offset="0.1780" stop-color="#353ba8"/><stop offset="0.1878" stop-color="#353cab"/><stop offset="0.2073" stop-color="#3341b5"/><stop offset="0.3000" stop-color="#353eaf"/><stop offset="0.5098" stop-color="#363aa7"/><stop offset="0.7244" stop-color="#36359c"/><stop offset="0.9976" stop-color="#363398"/></linearGradient><linearGradient id="r183"><stop offset="0.0024" stop-color="#2b4ac7"/><stop offset="0.0902" stop-color="#2c4ac5"/><stop offset="0.1537" stop-color="#3243b9"/><stop offset="0.1780" stop-color="#3639a6"/><stop offset="0.1927" stop-color="#353dac"/><stop offset="0.2073" stop-color="#3440b2"/><stop offset="0.3244" stop-color="#353dac"/><stop offset="0.5732" stop-color="#3637a1"/><stop offset="0.7341" stop-color="#36349a"/><stop offset="0.9976" stop-color="#363296"/></linearGradient><linearGradient id="r184"><stop offset="0.0024" stop-color="#2d49c5"/><stop offset="0.0902" stop-color="#2d49c3"/><stop offset="0.1537" stop-color="#3342b7"/><stop offset="0.1780" stop-color="#3638a4"/><stop offset="0.1927" stop-color="#353caa"/><stop offset="0.2122" stop-color="#343eb0"/><stop offset="0.3000" stop-color="#353caa"/><stop offset="0.4659" stop-color="#3639a5"/><stop offset="0.7244" stop-color="#363398"/><stop offset="0.9976" stop-color="#363194"/></linearGradient><linearGradient id="r185"><stop offset="0.0024" stop-color="#2e48c3"/><stop offset="0.0951" stop-color="#2f47c0"/><stop offset="0.1537" stop-color="#3341b5"/><stop offset="0.1780" stop-color="#3637a1"/><stop offset="0.1878" stop-color="#3639a4"/><stop offset="0.2073" stop-color="#353dae"/><stop offset="0.2951" stop-color="#353aa8"/><stop offset="0.4610" stop-color="#3638a3"/><stop offset="0.7244" stop-color="#363296"/><stop offset="0.9976" stop-color="#363092"/></linearGradient><linearGradient id="r186"><stop offset="0.0024" stop-color="#3241b5"/><stop offset="0.1146" stop-color="#3340b3"/><stop offset="0.1634" stop-color="#353cab"/><stop offset="0.1780" stop-color="#36369f"/><stop offset="0.1878" stop-color="#3638a2"/><stop offset="0.2024" stop-color="#353caa"/><stop offset="0.3244" stop-color="#3639a5"/><stop offset="0.5878" stop-color="#36339a"/><stop offset="0.7341" stop-color="#363194"/><stop offset="0.9976" stop-color="#362f90"/></linearGradient><linearGradient id="r187"><stop offset="0.0024" stop-color="#353ba9"/><stop offset="0.1634" stop-color="#353ba9"/><stop offset="0.1780" stop-color="#36369e"/><stop offset="0.1927" stop-color="#3639a4"/><stop offset="0.2073" stop-color="#353ba9"/><stop offset="0.3098" stop-color="#3639a4"/><stop offset="0.5098" stop-color="#36359d"/><stop offset="0.7244" stop-color="#363093"/><stop offset="0.9976" stop-color="#362e8e"/></linearGradient><linearGradient id="r188"><stop offset="0.0024" stop-color="#353ba9"/><stop offset="0.1634" stop-color="#353ba9"/><stop offset="0.1780" stop-color="#36359e"/><stop offset="0.1927" stop-color="#3639a4"/><stop offset="0.2073" stop-color="#353ba9"/><stop offset="0.3049" stop-color="#3638a4"/><stop offset="0.5098" stop-color="#36359d"/><stop offset="0.7195" stop-color="#363093"/><stop offset="0.9976" stop-color="#362e8e"/></linearGradient><linearGradient id="cbar" x1="0" y1="0" x2="0" y2="1"><stop offset="0.0000" stop-color="#f9fb0e"/><stop offset="0.0156" stop-color="#f6f313"/><stop offset="0.0312" stop-color="#f5eb18"/><stop offset="0.0469" stop-color="#f5e51d"/><stop offset="0.0625" stop-color="#f5de21"/><stop offset="0.0781" stop-color="#f7d925"/><stop offset="0.0938" stop-color="#f9d329"/><stop offset="0.1094" stop-color="#fcce2d"/><stop offset="0.1250" stop-color="#fec932"/><stop offset="0.1406" stop-color="#ffc436"/><stop offset="0.1562" stop-color="#febf3c"/><stop offset="0.1719" stop-color="#f9bb43"/><stop offset="0.1875" stop-color="#f2b949"/><stop offset="0.2031" stop-color="#ebb94d"/><stop offset="0.2188" stop-color="#e3b951"/><stop offset="0.2344" stop-color="#dbba55"/><stop offset="0.2500" stop-color="#d3bb58"/><stop offset="0.2656" stop-color="#cbbb5c"/><stop offset="0.2812" stop-color="#c2bc5f"/><stop offset="0.2969" stop-color="#babd63"/><stop offset="0.3125" stop-color="#b1bd66"/><stop offset="0.3281" stop-color="#a8be6a"/><stop offset="0.3438" stop-color="#9fbe6d"/><stop offset="0.3594" stop-color="#95bf71"/><stop offset="0.3750" stop-color="#8bbf75"/><stop offset="0.3906" stop-color="#80bf7a"/><stop offset="0.4062" stop-color="#75bf7e"/><stop offset="0.4219" stop-color="#6abe83"/><stop offset="0.4375" stop-color="#5ebe89"/><stop offset="0.4531" stop-color="#52bd8f"/><stop offset="0.4688" stop-color="#47bb95"/><stop offset="0.4844" stop-color="#3dba9b"/><stop offset="0.5000" stop-color="#33b8a1"/><stop offset="0.5156" stop-color="#2ab6a7"/><stop offset="0.5312" stop-color="#21b4ac"/><stop offset="0.5469" stop-color="#1ab2b1"/><stop offset="0.5625" stop-color="#13b0b6"/><stop offset="0.5781" stop-color="#0dadbb"/><stop offset="0.5938" stop-color="#09abbf"/><stop offset="0.6094" stop-color="#06a8c4"/><stop offset="0.6250" stop-color="#06a6c7"/><stop offset="0.6406" stop-color="#06a2cb"/><stop offset="0.6562" stop-color="#069fce"/><stop offset="0.6719" stop-color="#079bd0"/><stop offset="0.6875" stop-color="#0a97d1"/><stop offset="0.7031" stop-color="#0e92d2"/><stop offset="0.7188" stop-color="#118dd2"/><stop offset="0.7344" stop-color="#1388d3"/><stop offset="0.7500" stop-color="#1484d4"/><stop offset="0.7656" stop-color="#1480d6"/><stop offset="0.7812" stop-color="#127cd8"/><stop offset="0.7969" stop-color="#0f78db"/><stop offset="0.8125" stop-color="#0c74dd"/><stop offset="0.8281" stop-color="#0870df"/><stop offset="0.8438" stop-color="#046ce0"/><stop offset="0.8594" stop-color="#0267e1"/><stop offset="0.8750" stop-color="#0462e0"/><stop offset="0.8906" stop-color="#115bdc"/><stop offset="0.9062" stop-color="#2152d3"/><stop offset="0.9219" stop-color="#2c4ac6"/><stop offset="0.9375" stop-color="#3243b9"/><stop offset="0.9531" stop-color="#353dac"/><stop offset="0.9688" stop-color="#36369f"/><stop offset="0.9844" stop-color="#363093"/><stop offset="1.0000" stop-color="#352a87"/></linearGradient></defs>
<g shape-rendering="crispEdges"><rect x="407" y="59" width="205" height="1" fill="#2c49c5" fill-opacity="0.9"/><rect x="407" y="60" width="205" height="1" fill="url(#r1)"/><rect x="407" y="61" width="205" height="1" fill="url(#r2)"/><rect x="407" y="62" width="205" height="1" fill="url(#r3)"/><rect x="407" y="63" width="205" height="1" fill="url(#r4)"/><rect x="407" y="64" width="205" height="1" fill="url(#r5)"/><rect x="407" y="65" width="205" height="1" fill="url(#r6)"/><rect x="407" y="66" width="205" height="1" fill="url(#r7)"/><rect x="407" y="67" width="205" height="1" fill="url(#r8)"/><rect x="407" y="68" width="205" height="1" fill="url(#r9)"/><rect x="407" y="69" width="205" height="1" fill="url(#r10)"/><rect x="407" y="70" width="205" height="1" fill="url(#r11)"/><rect x="407" y="71" width="205" height="1" fill="url(#r12)"/><rect x="407" y="72" width="205" height="1" fill="url(#r13)"/><rect x="407" y="73" width="205" height="1" fill="url(#r14)"/><rect x="407" y="74" width="205" height="1" fill="url(#r15)"/><rect x="407" y="75" width="205" height="1" fill="url(#r16)"/><rect x="407" y="76" width="205" height="1" fill="url(#r17)"/><rect x="407" y="77" width="205" height="1" fill="url(#r18)"/><rect x="407" y="78" width="205" height="1" fill="url(#r19)"/><rect x="407" y="79" width="205" height="1" fill="url(#r20)"/><rect x="407" y="80" width="205" height="1" fill="url(#r21)"/><rect x="407" y="81" width="205" height="1" fill="url(#r22)"/><rect x="407" y="82" width="205" height="1" fill="url(#r23)"/><rect x="407" y="83" width="205" height="1" fill="url(#r24)"/><rect x="407" y="84" width="205" height="1" fill="url(#r25)"/><rect x="407" y="85" width="205" height="1" fill="url(#r26)"/><rect x="407" y="86" width="205" height="1" fill="url(#r27)"/><rect x="407" y="87" width="205" height="1" fill="url(#r28)"/><rect x="407" y="88" width="205" height="1" fill="url(#r29)"/><rect x="407" y="89" width="205" height="1" fill="url(#r30)"/><rect x="407" y="90" width="205" height="1" fill="url(#r31)"/><rect x="407" y="91" width="205" height="1" fill="url(#r32)"/><rect x="407" y="92" width="205" height="1" fill="url(#r33)"/><rect x="407" y="93" width="205" height="1" fill="url(#r34)"/><rect x="407" y="94" width="205" height="1" fill="url(#r35)"/><rect x="407" y="95" width="205" height="1" fill="url(#r36)"/><rect x="407" y="96" width="205" height="1" fill="url(#r37)"/><rect x="407" y="97" width="205" height="1" fill="url(#r38)"/><rect x="407" y="98" width="205" height="1" fill="url(#r39)"/><rect x="407" y="99" width="205" height="1" fill="url(#r40)"/><rect x="407" y="100" width="205" height="1" fill="url(#r41)"/><rect x="407" y="101" width="205" height="1" fill="url(#r42)"/><rect x="407" y="102" width="205" height="1" fill="url(#r43)"/><rect x="407" y="103" width="205" height="1" fill="url(#r44)"/><rect x="407" y="104" width="205" height="1" fill="url(#r45)"/><rect x="407" y="105" width="205" height="1" fill="url(#r46)"/><rect x="407" y="106" width="205" height="1" fill="url(#r47)"/><rect x="407" y="107" width="205" height="1" fill="url(#r48)"/><rect x="407" y="108" width="205" height="1" fill="url(#r49)"/><rect x="407" y="109" width="205" height="1" fill="url(#r50)"/><rect x="407" y="110" width="205" height="1" fill="url(#r51)"/><rect x="407" y="111" width="205" height="1" fill="url(#r52)"/><rect x="407" y="112" width="205" height="1" fill="url(#r53)"/><rect x="407" y="113" width="205" height="1" fill="url(#r54)"/><rect x="407" y="114" width="205" height="1" fill="url(#r55)"/><rect x="407" y="115" width="205" height="1" fill="url(#r56)"/><rect x="407" y="116" width="205" height="1" fill="url(#r57)"/><rect x="407" y="117" width="205" height="1" fill="url(#r58)"/><rect x="407" y="118" width="205" height="1" fill="url(#r59)"/><rect x="407" y="119" width="205" height="1" fill="url(#r60)"/><rect x="407" y="120" width="205" height="1" fill="url(#r61)"/><rect x="407" y="121" width="205" height="1" fill="url(#r62)"/><rect x="407" y="122" width="205" height="1" fill="url(#r63)"/><rect x="407" y="123" width="205" height="1" fill="url(#r64)"/><rect x="407" y="124" width="205" height="1" fill="url(#r65)"/><rect x="407" y="125" width="205" height="1" fill="url(#r66)"/><rect x="407" y="126" width="205" height="1" fill="url(#r67)"/><rect x="407" y="127" width="205" height="1" fill="url(#r68)"/><rect x="407" y="128" width="205" height="1" fill="url(#r69)"/><rect x="407" y="129" width="205" height="1" fill="url(#r70)"/><rect x="407" y="130" width="205" height="1" fill="url(#r71)"/><rect x="407" y="131" width="205" height="1" fill="url(#r72)"/><rect x="407" y="132" width="205" height="1" fill="url(#r73)"/><rect x="407" y="133" width="205" height="1" fill="url(#r74)"/><rect x="407" y="134" width="205" height="1" fill="url(#r75)"/><rect x="407" y="135" width="205" height="1" fill="url(#r76)"/><rect x="407" y="136" width="205" height="1" fill="url(#r77)"/><rect x="407" y="137" width="205" height="1" fill="url(#r78)"/><rect x="407" y="138" width="205" height="1" fill="url(#r79)"/><rect x="407" y="139" width="205" height="1" fill="url(#r80)"/><rect x="407" y="140" width="205" height="1" fill="url(#r81)"/><rect x="407" y="141" width="205" height="1" fill="url(#r82)"/><rect x="407" y="142" width="205" height="1" fill="url(#r83)"/><rect x="407" y="143" width="205" height="1" fill="url(#r84)"/><rect x="407" y="144" width="205" height="1" fill="url(#r85)"/><rect x="407" y="145" width="205" height="1" fill="url(#r86)"/><rect x="407" y="146" width="205" height="1" fill="url(#r87)"/><rect x="407" y="147" width="205" height="1" fill="url(#r88)"/><rect x="407" y="148" width="205" height="1" fill="url(#r89)"/><rect x="407" y="149" width="205" height="1" fill="url(#r90)"/><rect x="407" y="150" width="205" height="1" fill="url(#r91)"/><rect x="407" y="151" width="205" height="1" fill="url(#r92)"/><rect x="407" y="152" width="205" height="1" fill="url(#r93)"/><rect x="407" y="153" width="205" height="1" fill="url(#r94)"/><rect x="407" y="154" width="205" height="1" fill="url(#r95)"/><rect x="407" y="155" width="205" height="1" fill="url(#r96)"/><rect x="407" y="156" width="205" height="1" fill="url(#r97)"/><rect x="407" y="157" width="205" height="1" fill="url(#r98)"/><rect x="407" y="158" width="205" height="1" fill="url(#r99)"/><rect x="407" y="159" width="205" height="1" fill="url(#r100)"/><rect x="407" y="160" width="205" height="1" fill="url(#r101)"/><rect x="407" y="161" width="205" height="1" fill="url(#r102)"/><rect x="407" y="162" width="205" height="1" fill="url(#r103)"/><rect x="407" y="163" width="205" height="1" fill="url(#r104)"/><rect x="407" y="164" width="205" height="1" fill="url(#r105)"/><rect x="407" y="165" width="205" height="1" fill="url(#r106)"/><rect x="407" y="166" width="205" height="1" fill="url(#r107)"/><rect x="407" y="167" width="205" height="1" fill="url(#r108)"/><rect x="407" y="168" width="205" height="1" fill="url(#r109)"/><rect x="407" y="169" width="205" height="1" fill="url(#r110)"/><rect x="407" y="170" width="205" height="1" fill="url(#r111)"/><rect x="407" y="171" width="205" height="1" fill="url(#r112)"/><rect x="407" y="172" width="205" height="1" fill="url(#r113)"/><rect x="407" y="173" width="205" height="1" fill="url(#r114)"/><rect x="407" y="174" width="205" height="1" fill="url(#r115)"/><rect x="407" y="175" width="205" height="1" fill="url(#r116)"/><rect x="407" y="176" width="205" height="1" fill="url(#r117)"/><rect x="407" y="177" width="205" height="1" fill="url(#r118)"/><rect x="407" y="178" width="205" height="1" fill="url(#r119)"/><rect x="407" y="179" width="205" height="1" fill="url(#r120)"/><rect x="407" y="180" width="205" height="1" fill="url(#r121)"/><rect x="407" y="181" width="205" height="1" fill="url(#r122)"/><rect x="407" y="182" width="205" height="1" fill="url(#r123)"/><rect x="407" y="183" width="205" height="1" fill="url(#r124)"/><rect x="407" y="184" width="205" height="1" fill="url(#r125)"/><rect x="407" y="185" width="205" height="1" fill="url(#r126)"/><rect x="407" y="186" width="205" height="1" fill="url(#r127)"/><rect x="407" y="187" width="205" height="1" fill="url(#r128)"/><rect x="407" y="188" width="205" height="1" fill="url(#r129)"/><rect x="407" y="189" width="205" height="1" fill="url(#r130)"/><rect x="407" y="190" width="205" height="1" fill="url(#r131)"/><rect x="407" y="191" width="205" height="1" fill="url(#r132)"/><rect x="407" y="192" width="205" height="1" fill="url(#r133)"/><rect x="407" y="193" width="205" height="1" fill="url(#r134)"/><rect x="407" y="194" width="205" height="1" fill="url(#r135)"/><rect x="407" y="195" width="205" height="1" fill="url(#r136)"/><rect x="407" y="196" width="205" height="1" fill="url(#r137)"/><rect x="407" y="197" width="205" height="1" fill="url(#r138)"/><rect x="407" y="198" width="205" height="1" fill="url(#r139)"/><rect x="407" y="199" width="205" height="1" fill="url(#r140)"/><rect x="407" y="200" width="205" height="1" fill="url(#r141)"/><rect x="407" y="201" width="205" height="1" fill="url(#r142)"/><rect x="407" y="202" width="205" height="1" fill="url(#r143)"/><rect x="407" y="203" width="205" height="1" fill="url(#r144)"/><rect x="407" y="204" width="205" height="1" fill="url(#r145)"/><rect x="407" y="205" width="205" height="1" fill="url(#r146)"/><rect x="407" y="206" width="205" height="1" fill="url(#r147)"/><rect x="407" y="207" width="205" height="1" fill="url(#r148)"/><rect x="407" y="208" width="205" height="1" fill="url(#r149)"/><rect x="407" y="209" width="205" height="1" fill="url(#r150)"/><rect x="407" y="210" width="205" height="1" fill="url(#r151)"/><rect x="407" y="211" width="205" height="1" fill="url(#r152)"/><rect x="407" y="212" width="205" height="1" fill="url(#r153)"/><rect x="407" y="213" width="205" height="1" fill="url(#r154)"/><rect x="407" y="214" width="205" height="1" fill="url(#r155)"/><rect x="407" y="215" width="205" height="1" fill="url(#r156)"/><rect x="407" y="216" width="205" height="1" fill="url(#r157)"/><rect x="407" y="217" width="205" height="1" fill="url(#r158)"/><rect x="407" y="218" width="205" height="1" fill="url(#r159)"/><rect x="407" y="219" width="205" height="1" fill="url(#r160)"/><rect x="407" y="220" width="205" height="1" fill="url(#r161)"/><rect x="407" y="221" width="205" height="1" fill="url(#r162)"/><rect x="407" y="222" width="205" height="1" fill="url(#r163)"/><rect x="407" y="223" width="205" height="1" fill="url(#r164)"/><rect x="407" y="224" width="205" height="1" fill="url(#r165)"/><rect x="407" y="225" width="205" height="1" fill="url(#r166)"/><rect x="407" y="226" width="205" height="1" fill="url(#r167)"/><rect x="407" y="227" width="205" height="1" fill="url(#r168)"/><rect x="407" y="228" width="205" height="1" fill="url(#r169)"/><rect x="407" y="229" width="205" height="1" fill="url(#r170)"/><rect x="407" y="230" width="205" height="1" fill="url(#r171)"/><rect x="407" y="231" width="205" height="1" fill="url(#r172)"/><rect x="407" y="232" width="205" height="1" fill="url(#r173)"/><rect x="407" y="233" width="205" height="1" fill="url(#r174)"/><rect x="407" y="234" width="205" height="1" fill="url(#r175)"/><rect x="407" y="235" width="205" height="1" fill="url(#r176)"/><rect x="407" y="236" width="205" height="1" fill="url(#r177)"/><rect x="407" y="237" width="205" height="1" fill="url(#r178)"/><rect x="407" y="238" width="205" height="1" fill="url(#r179)"/><rect x="407" y="239" width="205" height="1" fill="url(#r180)"/><rect x="407" y="240" width="205" height="1" fill="url(#r181)"/><rect x="407" y="241" width="205" height="1" fill="url(#r182)"/><rect x="407" y="242" width="205" height="1" fill="url(#r183)"/><rect x="407" y="243" width="205" height="1" fill="url(#r184)"/><rect x="407" y="244" width="205" height="1" fill="url(#r185)"/><rect x="407" y="245" width="205" height="1" fill="url(#r186)"/><rect x="407" y="246" width="205" height="1" fill="url(#r187)"/><rect x="407" y="247" width="205" height="1" fill="url(#r188)" fill-opacity="0.45"/></g>
<rect x="618.5" y="60" width="15" height="187.5" fill="url(#cbar)" stroke="#8a8a8a" stroke-width="0.7"/>
<path d="M631.6,66.94H633.5 M631.6,92.30H633.5 M631.6,117.66H633.5 M631.6,143.02H633.5 M631.6,168.38H633.5 M631.6,193.74H633.5 M631.6,219.10H633.5 M631.6,244.46H633.5" stroke="#333" stroke-width="0.8" stroke-opacity="0.55"/>
<rect x="516.7" y="175.8" width="93.3" height="70.9" fill="#fff"/>
<path d="M515.7,246.6V174.8H611V246.6" fill="none" stroke="#3a3cb8" stroke-width="2" stroke-opacity="0.7"/>
<rect x="533.5" y="176.6" width="66.6" height="58.8" fill="none" stroke="#7a7a7a" stroke-width="1.1"/>
<path d="M533.5,191.50H535.5 M600.1,191.50H598.1 M533.5,209.40H535.5 M600.1,209.40H598.1 M544.60,235.4V233.4 M544.60,176.6V178.6 M571.90,235.4V233.4 M571.90,176.6V178.6" stroke="#444" stroke-width="0.9"/>
<g fill="#fff" stroke="#262626" stroke-width="0.7"><rect x="532.25" y="224.83" width="2.7" height="2.7"/><rect x="534.05" y="224.76" width="2.7" height="2.7"/><rect x="535.85" y="224.70" width="2.7" height="2.7"/><rect x="537.59" y="224.43" width="2.7" height="2.7"/><rect x="539.18" y="223.60" width="2.7" height="2.7"/><rect x="540.14" y="222.07" width="2.7" height="2.7"/><rect x="541.02" y="220.50" width="2.7" height="2.7"/><rect x="541.81" y="218.89" width="2.7" height="2.7"/><rect x="542.60" y="217.27" width="2.7" height="2.7"/><rect x="543.39" y="215.65" width="2.7" height="2.7"/><rect x="544.18" y="214.04" width="2.7" height="2.7"/><rect x="544.97" y="212.42" width="2.7" height="2.7"/><rect x="545.77" y="210.80" width="2.7" height="2.7"/><rect x="546.56" y="209.19" width="2.7" height="2.7"/><rect x="547.35" y="207.57" width="2.7" height="2.7"/><rect x="548.14" y="205.96" width="2.7" height="2.7"/><rect x="548.93" y="204.34" width="2.7" height="2.7"/><rect x="549.73" y="202.72" width="2.7" height="2.7"/><rect x="550.52" y="201.11" width="2.7" height="2.7"/><rect x="551.31" y="199.49" width="2.7" height="2.7"/><rect x="552.10" y="197.87" width="2.7" height="2.7"/><rect x="552.89" y="196.26" width="2.7" height="2.7"/><rect x="553.69" y="194.64" width="2.7" height="2.7"/><rect x="554.48" y="193.02" width="2.7" height="2.7"/><rect x="555.32" y="191.44" width="2.7" height="2.7"/><rect x="556.48" y="190.06" width="2.7" height="2.7"/><rect x="557.79" y="188.87" width="2.7" height="2.7"/><rect x="559.36" y="188.02" width="2.7" height="2.7"/><rect x="561.14" y="187.73" width="2.7" height="2.7"/><rect x="562.93" y="187.62" width="2.7" height="2.7"/><rect x="564.73" y="187.58" width="2.7" height="2.7"/><rect x="566.53" y="187.54" width="2.7" height="2.7"/><rect x="568.33" y="187.50" width="2.7" height="2.7"/><rect x="570.13" y="187.46" width="2.7" height="2.7"/><rect x="571.92" y="187.28" width="2.7" height="2.7"/><rect x="573.70" y="187.04" width="2.7" height="2.7"/><rect x="575.47" y="186.74" width="2.7" height="2.7"/><rect x="577.17" y="186.15" width="2.7" height="2.7"/><rect x="578.87" y="185.56" width="2.7" height="2.7"/><rect x="580.57" y="184.97" width="2.7" height="2.7"/><rect x="582.27" y="184.38" width="2.7" height="2.7"/><rect x="584.03" y="184.02" width="2.7" height="2.7"/><rect x="585.81" y="183.72" width="2.7" height="2.7"/><rect x="587.58" y="183.42" width="2.7" height="2.7"/><rect x="589.36" y="183.11" width="2.7" height="2.7"/><rect x="591.13" y="182.82" width="2.7" height="2.7"/><rect x="592.91" y="182.52" width="2.7" height="2.7"/><rect x="594.68" y="182.22" width="2.7" height="2.7"/><rect x="596.46" y="181.92" width="2.7" height="2.7"/></g>
<g font-size="10.4" font-family="Liberation Sans, sans-serif"><text x="531.9" y="194.8" text-anchor="end">0.1</text><text x="531.9" y="231.5" text-anchor="end">0.0</text><text x="545.3" y="245.3" text-anchor="middle">0 fs</text><text x="590.0" y="245.3" text-anchor="middle">500 fs</text><text x="575.3" y="228.3" text-anchor="middle">745 nm</text></g>
<text x="-0.60" y="18.20" font-size="21" text-anchor="start" font-weight="bold">a</text>
<text x="168.60" y="34.00" font-size="15" text-anchor="middle">Energy (eV)</text>
<text x="79.15" y="53.40" font-size="15" text-anchor="middle">2.2</text>
<text x="120.25" y="53.40" font-size="15" text-anchor="middle">2.0</text>
<text x="168.75" y="53.40" font-size="15" text-anchor="middle">1.8</text>
<text x="228.50" y="53.40" font-size="15" text-anchor="middle">1.6</text>
<text x="40.20" y="83.95" font-size="15" text-anchor="end">0.4</text>
<text x="40.20" y="167.70" font-size="15" text-anchor="end">0.2</text>
<text x="40.20" y="251.70" font-size="15" text-anchor="end">0.0</text>
<text x="286.40" y="94.85" font-size="15" text-anchor="start">1.0</text>
<text x="286.40" y="173.50" font-size="15" text-anchor="start">0.5</text>
<text x="286.40" y="251.70" font-size="15" text-anchor="start">0.0</text>
<text x="106.00" y="267.60" font-size="15" text-anchor="middle">600</text>
<text x="176.50" y="267.60" font-size="15" text-anchor="middle">700</text>
<text x="247.00" y="267.60" font-size="15" text-anchor="middle">800</text>
<text x="165.50" y="288.10" font-size="15" text-anchor="middle">Wavelength (nm)</text>
<text transform="translate(13.2,148.5) rotate(-90)" font-size="15" text-anchor="middle">Absorptance</text>
<text transform="translate(327.2,151.5) rotate(-90)" font-size="14.8" text-anchor="middle">Pump intensity (norm.)</text>
<text x="354.30" y="18.60" font-size="21" text-anchor="start" font-weight="bold">b</text>
<text x="403.30" y="83.00" font-size="15" text-anchor="end">750</text>
<text x="403.30" y="125.70" font-size="15" text-anchor="end">700</text>
<text x="403.30" y="168.60" font-size="15" text-anchor="end">650</text>
<text x="403.30" y="210.90" font-size="15" text-anchor="end">600</text>
<text x="442.40" y="264.40" font-size="15" text-anchor="middle">0</text>
<text x="508.05" y="264.40" font-size="15" text-anchor="middle">200</text>
<text x="576.80" y="264.40" font-size="15" text-anchor="middle">400</text>
<text x="510.40" y="280.70" font-size="15" text-anchor="middle">Time (fs)</text>
<text transform="translate(367.6,147.4) rotate(-90)" font-size="15.2" text-anchor="middle">Probe wavelength (nm)</text>
<text x="637.70" y="72.14" font-size="15" text-anchor="start">0.12</text>
<text x="637.70" y="97.50" font-size="15" text-anchor="start">0.1</text>
<text x="637.70" y="122.86" font-size="15" text-anchor="start">0.08</text>
<text x="637.70" y="148.22" font-size="15" text-anchor="start">0.06</text>
<text x="637.70" y="173.58" font-size="15" text-anchor="start">0.04</text>
<text x="637.70" y="198.94" font-size="15" text-anchor="start">0.02</text>
<text x="637.70" y="224.30" font-size="15" text-anchor="start">0</text>
<text x="637.70" y="249.66" font-size="15" text-anchor="start">−0.02</text>
<text x="622.6" y="50.1" font-size="15">Δ<tspan font-style="italic">T</tspan>/<tspan font-style="italic">T</tspan></text>
</svg>
</body></html>
